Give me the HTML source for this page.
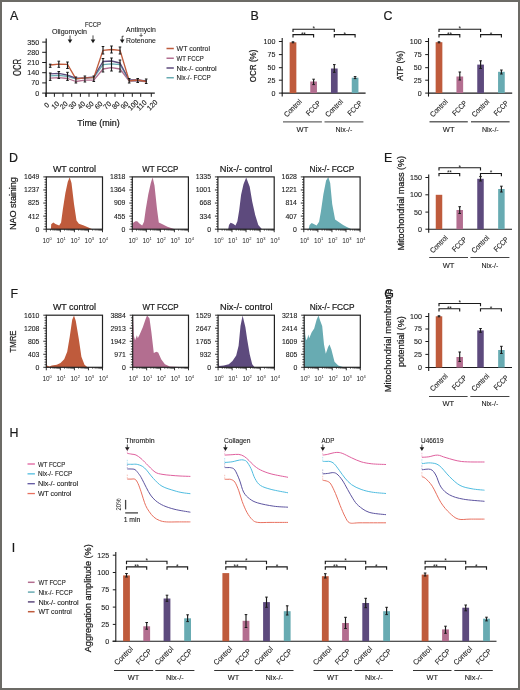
<!DOCTYPE html>
<html><head><meta charset="utf-8"><style>
html,body{margin:0;padding:0;background:#fff;}
svg{display:block;font-family:"Liberation Sans",sans-serif;will-change:transform;}
</style></head><body>
<svg width="520" height="690" viewBox="0 0 520 690">
<rect x="0" y="0" width="520" height="690" fill="#fff"/>
<text x="10" y="20" font-size="12.4" text-anchor="start" fill="#1a1a1a" stroke="#1a1a1a" stroke-width="0.2">A</text>
<text x="250.5" y="20" font-size="12.4" text-anchor="start" fill="#1a1a1a" stroke="#1a1a1a" stroke-width="0.2">B</text>
<text x="383.5" y="20" font-size="12.4" text-anchor="start" fill="#1a1a1a" stroke="#1a1a1a" stroke-width="0.2">C</text>
<text x="9" y="161.5" font-size="12.4" text-anchor="start" fill="#1a1a1a" stroke="#1a1a1a" stroke-width="0.2">D</text>
<text x="384" y="161.5" font-size="12.4" text-anchor="start" fill="#1a1a1a" stroke="#1a1a1a" stroke-width="0.2">E</text>
<text x="10.5" y="298.3" font-size="12.4" text-anchor="start" fill="#1a1a1a" stroke="#1a1a1a" stroke-width="0.2">F</text>
<text x="9.5" y="436.5" font-size="12.4" text-anchor="start" fill="#1a1a1a" stroke="#1a1a1a" stroke-width="0.2">H</text>
<text x="11.8" y="551.5" font-size="12.4" text-anchor="start" fill="#1a1a1a" stroke="#1a1a1a" stroke-width="0.2">I</text>
<line x1="46.2" y1="38.5" x2="46.2" y2="97" stroke="#1a1a1a" stroke-width="1.2"/>
<line x1="45.6" y1="93.1" x2="154.8" y2="93.1" stroke="#1a1a1a" stroke-width="1.2"/>
<line x1="42.2" y1="93.1" x2="46.2" y2="93.1" stroke="#1a1a1a" stroke-width="1"/>
<text x="39.2" y="95.6" font-size="7.1" text-anchor="end" fill="#1a1a1a" stroke="#1a1a1a" stroke-width="0.1">0</text>
<line x1="42.2" y1="82.9" x2="46.2" y2="82.9" stroke="#1a1a1a" stroke-width="1"/>
<text x="39.2" y="85.4" font-size="7.1" text-anchor="end" fill="#1a1a1a" stroke="#1a1a1a" stroke-width="0.1">70</text>
<line x1="42.2" y1="72.7" x2="46.2" y2="72.7" stroke="#1a1a1a" stroke-width="1"/>
<text x="39.2" y="75.2" font-size="7.1" text-anchor="end" fill="#1a1a1a" stroke="#1a1a1a" stroke-width="0.1">140</text>
<line x1="42.2" y1="62.5" x2="46.2" y2="62.5" stroke="#1a1a1a" stroke-width="1"/>
<text x="39.2" y="65" font-size="7.1" text-anchor="end" fill="#1a1a1a" stroke="#1a1a1a" stroke-width="0.1">210</text>
<line x1="42.2" y1="52.3" x2="46.2" y2="52.3" stroke="#1a1a1a" stroke-width="1"/>
<text x="39.2" y="54.8" font-size="7.1" text-anchor="end" fill="#1a1a1a" stroke="#1a1a1a" stroke-width="0.1">280</text>
<line x1="42.2" y1="42.1" x2="46.2" y2="42.1" stroke="#1a1a1a" stroke-width="1"/>
<text x="39.2" y="44.6" font-size="7.1" text-anchor="end" fill="#1a1a1a" stroke="#1a1a1a" stroke-width="0.1">350</text>
<line x1="45.8" y1="93.1" x2="45.8" y2="96.8" stroke="#1a1a1a" stroke-width="1"/>
<text transform="translate(48.4 106.9) rotate(-45)" font-size="7.1" text-anchor="middle" fill="#1a1a1a" stroke="#1a1a1a" stroke-width="0.1">0</text>
<line x1="54.4" y1="93.1" x2="54.4" y2="96.8" stroke="#1a1a1a" stroke-width="1"/>
<text transform="translate(57 106.9) rotate(-45)" font-size="7.1" text-anchor="middle" fill="#1a1a1a" stroke="#1a1a1a" stroke-width="0.1">10</text>
<line x1="63" y1="93.1" x2="63" y2="96.8" stroke="#1a1a1a" stroke-width="1"/>
<text transform="translate(65.6 106.9) rotate(-45)" font-size="7.1" text-anchor="middle" fill="#1a1a1a" stroke="#1a1a1a" stroke-width="0.1">20</text>
<line x1="71.7" y1="93.1" x2="71.7" y2="96.8" stroke="#1a1a1a" stroke-width="1"/>
<text transform="translate(74.3 106.9) rotate(-45)" font-size="7.1" text-anchor="middle" fill="#1a1a1a" stroke="#1a1a1a" stroke-width="0.1">30</text>
<line x1="80.4" y1="93.1" x2="80.4" y2="96.8" stroke="#1a1a1a" stroke-width="1"/>
<text transform="translate(83 106.9) rotate(-45)" font-size="7.1" text-anchor="middle" fill="#1a1a1a" stroke="#1a1a1a" stroke-width="0.1">40</text>
<line x1="89" y1="93.1" x2="89" y2="96.8" stroke="#1a1a1a" stroke-width="1"/>
<text transform="translate(91.6 106.9) rotate(-45)" font-size="7.1" text-anchor="middle" fill="#1a1a1a" stroke="#1a1a1a" stroke-width="0.1">50</text>
<line x1="97.7" y1="93.1" x2="97.7" y2="96.8" stroke="#1a1a1a" stroke-width="1"/>
<text transform="translate(100.3 106.9) rotate(-45)" font-size="7.1" text-anchor="middle" fill="#1a1a1a" stroke="#1a1a1a" stroke-width="0.1">60</text>
<line x1="106.3" y1="93.1" x2="106.3" y2="96.8" stroke="#1a1a1a" stroke-width="1"/>
<text transform="translate(108.9 106.9) rotate(-45)" font-size="7.1" text-anchor="middle" fill="#1a1a1a" stroke="#1a1a1a" stroke-width="0.1">70</text>
<line x1="115" y1="93.1" x2="115" y2="96.8" stroke="#1a1a1a" stroke-width="1"/>
<text transform="translate(117.6 106.9) rotate(-45)" font-size="7.1" text-anchor="middle" fill="#1a1a1a" stroke="#1a1a1a" stroke-width="0.1">80</text>
<line x1="123.6" y1="93.1" x2="123.6" y2="96.8" stroke="#1a1a1a" stroke-width="1"/>
<text transform="translate(126.2 106.9) rotate(-45)" font-size="7.1" text-anchor="middle" fill="#1a1a1a" stroke="#1a1a1a" stroke-width="0.1">90</text>
<line x1="132.3" y1="93.1" x2="132.3" y2="96.8" stroke="#1a1a1a" stroke-width="1"/>
<text transform="translate(134.9 106.9) rotate(-45)" font-size="7.1" text-anchor="middle" fill="#1a1a1a" stroke="#1a1a1a" stroke-width="0.1">100</text>
<line x1="140.7" y1="93.1" x2="140.7" y2="96.8" stroke="#1a1a1a" stroke-width="1"/>
<text transform="translate(143.3 106.9) rotate(-45)" font-size="7.1" text-anchor="middle" fill="#1a1a1a" stroke="#1a1a1a" stroke-width="0.1">110</text>
<line x1="151.3" y1="93.1" x2="151.3" y2="96.8" stroke="#1a1a1a" stroke-width="1"/>
<text transform="translate(153.9 106.9) rotate(-45)" font-size="7.1" text-anchor="middle" fill="#1a1a1a" stroke="#1a1a1a" stroke-width="0.1">120</text>
<text x="98.5" y="125.8" font-size="9.3" text-anchor="middle" fill="#1a1a1a" textLength="42.5" lengthAdjust="spacingAndGlyphs" stroke="#1a1a1a" stroke-width="0.22">Time (min)</text>
<text transform="translate(20.9 67.4) rotate(-90)" font-size="10" text-anchor="middle" fill="#1a1a1a" textLength="17.1" lengthAdjust="spacingAndGlyphs" stroke="#1a1a1a" stroke-width="0.22">OCR</text>
<text x="52" y="34" font-size="7.5" text-anchor="start" fill="#1a1a1a" textLength="35" lengthAdjust="spacingAndGlyphs" stroke="#1a1a1a" stroke-width="0.1">Oligomycin</text>
<line x1="70" y1="35.4" x2="70" y2="39.9" stroke="#1a1a1a" stroke-width="0.8"/>
<path d="M67.7 39.4L72.3 39.4L70 43.2Z" fill="#1a1a1a"/>
<text x="93" y="27.2" font-size="7.5" text-anchor="middle" fill="#1a1a1a" textLength="16" lengthAdjust="spacingAndGlyphs" stroke="#1a1a1a" stroke-width="0.1">FCCP</text>
<line x1="93" y1="35.4" x2="93" y2="39.9" stroke="#1a1a1a" stroke-width="0.8"/>
<path d="M90.7 39.4L95.3 39.4L93 43.2Z" fill="#1a1a1a"/>
<text x="141" y="31.8" font-size="7.4" text-anchor="middle" fill="#1a1a1a" textLength="29.8" lengthAdjust="spacingAndGlyphs" stroke="#1a1a1a" stroke-width="0.1">Antimycin</text>
<text x="141" y="37.8" font-size="7" text-anchor="middle" fill="#1a1a1a" stroke="#1a1a1a" stroke-width="0.1">+</text>
<text x="141" y="43.4" font-size="7.4" text-anchor="middle" fill="#1a1a1a" textLength="29.8" lengthAdjust="spacingAndGlyphs" stroke="#1a1a1a" stroke-width="0.1">Rotenone</text>
<line x1="122.2" y1="36" x2="122.2" y2="39.9" stroke="#1a1a1a" stroke-width="0.8"/>
<path d="M119.9 39.4L124.5 39.4L122.2 43.2Z" fill="#1a1a1a"/>
<line x1="122.2" y1="36.2" x2="123.8" y2="36.2" stroke="#1a1a1a" stroke-width="0.7"/>
<polyline points="50.2,78.1 58.8,77.7 67.5,78.5 75.9,81.5 84.9,80.2 93.8,80.2 103,69 111.5,67.7 120,69 129.2,81 137.7,81 146.2,81.6" fill="none" stroke="#b36e90" stroke-width="1.3" stroke-linejoin="round" stroke-linecap="round"/>
<polyline points="50.2,75.8 58.8,75.4 67.5,76.4 75.9,78.8 84.9,78.2 93.8,77.6 103,64.6 111.5,63.8 120,64.6 129.2,80.5 137.7,80.5 146.2,81" fill="none" stroke="#68abb2" stroke-width="1.3" stroke-linejoin="round" stroke-linecap="round"/>
<polyline points="50.2,73.8 58.8,73.3 67.5,75.2 75.9,78.1 84.9,77.8 93.8,76.8 103,61.5 111.5,61 120,63 129.2,80 137.7,80 146.2,81" fill="none" stroke="#5d4a7d" stroke-width="1.3" stroke-linejoin="round" stroke-linecap="round"/>
<polyline points="50.2,65 58.8,64.1 67.5,64.4 75.9,78.8 84.9,77.8 93.8,77.7 103,50.3 111.5,49.5 120,50.3 129.2,80.8 137.7,80 146.2,81.5" fill="none" stroke="#bf5b3c" stroke-width="1.3" stroke-linejoin="round" stroke-linecap="round"/>
<line x1="50.2" y1="64.2" x2="50.2" y2="67.3" stroke="#1a1a1a" stroke-width="1.15"/>
<line x1="48.9" y1="64.2" x2="51.5" y2="64.2" stroke="#1a1a1a" stroke-width="1"/>
<line x1="48.9" y1="67.3" x2="51.5" y2="67.3" stroke="#1a1a1a" stroke-width="1"/>
<line x1="58.8" y1="61.2" x2="58.8" y2="67.3" stroke="#1a1a1a" stroke-width="1.15"/>
<line x1="57.5" y1="61.2" x2="60.1" y2="61.2" stroke="#1a1a1a" stroke-width="1"/>
<line x1="57.5" y1="67.3" x2="60.1" y2="67.3" stroke="#1a1a1a" stroke-width="1"/>
<line x1="67.5" y1="62" x2="67.5" y2="68.5" stroke="#1a1a1a" stroke-width="1.15"/>
<line x1="66.2" y1="62" x2="68.8" y2="62" stroke="#1a1a1a" stroke-width="1"/>
<line x1="66.2" y1="68.5" x2="68.8" y2="68.5" stroke="#1a1a1a" stroke-width="1"/>
<line x1="103" y1="46.5" x2="103" y2="54" stroke="#1a1a1a" stroke-width="1.15"/>
<line x1="101.7" y1="46.5" x2="104.3" y2="46.5" stroke="#1a1a1a" stroke-width="1"/>
<line x1="101.7" y1="54" x2="104.3" y2="54" stroke="#1a1a1a" stroke-width="1"/>
<line x1="111.5" y1="46" x2="111.5" y2="53" stroke="#1a1a1a" stroke-width="1.15"/>
<line x1="110.2" y1="46" x2="112.8" y2="46" stroke="#1a1a1a" stroke-width="1"/>
<line x1="110.2" y1="53" x2="112.8" y2="53" stroke="#1a1a1a" stroke-width="1"/>
<line x1="120" y1="47" x2="120" y2="54" stroke="#1a1a1a" stroke-width="1.15"/>
<line x1="118.7" y1="47" x2="121.3" y2="47" stroke="#1a1a1a" stroke-width="1"/>
<line x1="118.7" y1="54" x2="121.3" y2="54" stroke="#1a1a1a" stroke-width="1"/>
<line x1="50.2" y1="73" x2="50.2" y2="80.4" stroke="#1a1a1a" stroke-width="1.15"/>
<line x1="48.9" y1="73" x2="51.5" y2="73" stroke="#1a1a1a" stroke-width="1"/>
<line x1="48.9" y1="80.4" x2="51.5" y2="80.4" stroke="#1a1a1a" stroke-width="1"/>
<line x1="58.8" y1="71.5" x2="58.8" y2="78.5" stroke="#1a1a1a" stroke-width="1.15"/>
<line x1="57.5" y1="71.5" x2="60.1" y2="71.5" stroke="#1a1a1a" stroke-width="1"/>
<line x1="57.5" y1="78.5" x2="60.1" y2="78.5" stroke="#1a1a1a" stroke-width="1"/>
<line x1="67.5" y1="72.3" x2="67.5" y2="80.4" stroke="#1a1a1a" stroke-width="1.15"/>
<line x1="66.2" y1="72.3" x2="68.8" y2="72.3" stroke="#1a1a1a" stroke-width="1"/>
<line x1="66.2" y1="80.4" x2="68.8" y2="80.4" stroke="#1a1a1a" stroke-width="1"/>
<line x1="75.9" y1="77" x2="75.9" y2="83" stroke="#1a1a1a" stroke-width="1.15"/>
<line x1="74.6" y1="77" x2="77.2" y2="77" stroke="#1a1a1a" stroke-width="1"/>
<line x1="74.6" y1="83" x2="77.2" y2="83" stroke="#1a1a1a" stroke-width="1"/>
<line x1="84.9" y1="76" x2="84.9" y2="82" stroke="#1a1a1a" stroke-width="1.15"/>
<line x1="83.6" y1="76" x2="86.2" y2="76" stroke="#1a1a1a" stroke-width="1"/>
<line x1="83.6" y1="82" x2="86.2" y2="82" stroke="#1a1a1a" stroke-width="1"/>
<line x1="93.8" y1="76" x2="93.8" y2="81.5" stroke="#1a1a1a" stroke-width="1.15"/>
<line x1="92.5" y1="76" x2="95.1" y2="76" stroke="#1a1a1a" stroke-width="1"/>
<line x1="92.5" y1="81.5" x2="95.1" y2="81.5" stroke="#1a1a1a" stroke-width="1"/>
<line x1="103" y1="58.5" x2="103" y2="72" stroke="#1a1a1a" stroke-width="1.15"/>
<line x1="101.7" y1="58.5" x2="104.3" y2="58.5" stroke="#1a1a1a" stroke-width="1"/>
<line x1="101.7" y1="72" x2="104.3" y2="72" stroke="#1a1a1a" stroke-width="1"/>
<line x1="111.5" y1="58" x2="111.5" y2="71" stroke="#1a1a1a" stroke-width="1.15"/>
<line x1="110.2" y1="58" x2="112.8" y2="58" stroke="#1a1a1a" stroke-width="1"/>
<line x1="110.2" y1="71" x2="112.8" y2="71" stroke="#1a1a1a" stroke-width="1"/>
<line x1="120" y1="60" x2="120" y2="72" stroke="#1a1a1a" stroke-width="1.15"/>
<line x1="118.7" y1="60" x2="121.3" y2="60" stroke="#1a1a1a" stroke-width="1"/>
<line x1="118.7" y1="72" x2="121.3" y2="72" stroke="#1a1a1a" stroke-width="1"/>
<line x1="129.2" y1="78.5" x2="129.2" y2="83" stroke="#1a1a1a" stroke-width="1.15"/>
<line x1="127.9" y1="78.5" x2="130.5" y2="78.5" stroke="#1a1a1a" stroke-width="1"/>
<line x1="127.9" y1="83" x2="130.5" y2="83" stroke="#1a1a1a" stroke-width="1"/>
<line x1="137.7" y1="78.5" x2="137.7" y2="82.5" stroke="#1a1a1a" stroke-width="1.15"/>
<line x1="136.4" y1="78.5" x2="139" y2="78.5" stroke="#1a1a1a" stroke-width="1"/>
<line x1="136.4" y1="82.5" x2="139" y2="82.5" stroke="#1a1a1a" stroke-width="1"/>
<line x1="146.2" y1="79" x2="146.2" y2="83.5" stroke="#1a1a1a" stroke-width="1.15"/>
<line x1="144.9" y1="79" x2="147.5" y2="79" stroke="#1a1a1a" stroke-width="1"/>
<line x1="144.9" y1="83.5" x2="147.5" y2="83.5" stroke="#1a1a1a" stroke-width="1"/>
<line x1="166.5" y1="48.5" x2="173.8" y2="48.5" stroke="#bf5b3c" stroke-width="1.5"/>
<text x="176.6" y="51.1" font-size="7.3" text-anchor="start" fill="#1a1a1a" textLength="33.4" lengthAdjust="spacingAndGlyphs" stroke="#1a1a1a" stroke-width="0.1">WT control</text>
<line x1="166.5" y1="58.25" x2="173.8" y2="58.25" stroke="#b36e90" stroke-width="1.5"/>
<text x="176.6" y="60.85" font-size="7.3" text-anchor="start" fill="#1a1a1a" textLength="27.2" lengthAdjust="spacingAndGlyphs" stroke="#1a1a1a" stroke-width="0.1">WT FCCP</text>
<line x1="166.5" y1="68" x2="173.8" y2="68" stroke="#5d4a7d" stroke-width="1.5"/>
<text x="176.6" y="70.6" font-size="7.3" text-anchor="start" fill="#1a1a1a" textLength="40" lengthAdjust="spacing" stroke="#1a1a1a" stroke-width="0.1">Nix-/- control</text>
<line x1="166.5" y1="77.75" x2="173.8" y2="77.75" stroke="#68abb2" stroke-width="1.5"/>
<text x="176.6" y="80.35" font-size="7.3" text-anchor="start" fill="#1a1a1a" textLength="34.2" lengthAdjust="spacingAndGlyphs" stroke="#1a1a1a" stroke-width="0.1">Nix-/- FCCP</text>
<line x1="282.2" y1="38" x2="282.2" y2="96.6" stroke="#1a1a1a" stroke-width="1.1"/>
<line x1="281.7" y1="93.1" x2="365.6" y2="93.1" stroke="#1a1a1a" stroke-width="1.1"/>
<line x1="278.9" y1="93.1" x2="282.2" y2="93.1" stroke="#1a1a1a" stroke-width="1"/>
<text x="275.4" y="95.55" font-size="7.1" text-anchor="end" fill="#1a1a1a" stroke="#1a1a1a" stroke-width="0.1">0</text>
<line x1="278.9" y1="80.2" x2="282.2" y2="80.2" stroke="#1a1a1a" stroke-width="1"/>
<text x="275.4" y="82.65" font-size="7.1" text-anchor="end" fill="#1a1a1a" stroke="#1a1a1a" stroke-width="0.1">25</text>
<line x1="278.9" y1="67.7" x2="282.2" y2="67.7" stroke="#1a1a1a" stroke-width="1"/>
<text x="275.4" y="70.15" font-size="7.1" text-anchor="end" fill="#1a1a1a" stroke="#1a1a1a" stroke-width="0.1">50</text>
<line x1="278.9" y1="54.6" x2="282.2" y2="54.6" stroke="#1a1a1a" stroke-width="1"/>
<text x="275.4" y="57.05" font-size="7.1" text-anchor="end" fill="#1a1a1a" stroke="#1a1a1a" stroke-width="0.1">75</text>
<line x1="278.9" y1="41.5" x2="282.2" y2="41.5" stroke="#1a1a1a" stroke-width="1"/>
<text x="275.4" y="43.95" font-size="7.1" text-anchor="end" fill="#1a1a1a" stroke="#1a1a1a" stroke-width="0.1">100</text>
<rect x="289.65" y="42.3" width="6.7" height="50.8" fill="#bf5b3c"/>
<line x1="293" y1="41.8" x2="293" y2="42.8" stroke="#1a1a1a" stroke-width="1.15"/>
<line x1="291.7" y1="41.8" x2="294.3" y2="41.8" stroke="#1a1a1a" stroke-width="1"/>
<line x1="291.7" y1="42.8" x2="294.3" y2="42.8" stroke="#1a1a1a" stroke-width="1"/>
<rect x="310.25" y="81.5" width="6.7" height="11.6" fill="#b36e90"/>
<line x1="313.6" y1="79.2" x2="313.6" y2="84.6" stroke="#1a1a1a" stroke-width="1.15"/>
<line x1="312.3" y1="79.2" x2="314.9" y2="79.2" stroke="#1a1a1a" stroke-width="1"/>
<line x1="312.3" y1="84.6" x2="314.9" y2="84.6" stroke="#1a1a1a" stroke-width="1"/>
<rect x="330.95" y="68.5" width="6.7" height="24.6" fill="#5d4a7d"/>
<line x1="334.3" y1="64.6" x2="334.3" y2="72.3" stroke="#1a1a1a" stroke-width="1.15"/>
<line x1="333" y1="64.6" x2="335.6" y2="64.6" stroke="#1a1a1a" stroke-width="1"/>
<line x1="333" y1="72.3" x2="335.6" y2="72.3" stroke="#1a1a1a" stroke-width="1"/>
<rect x="351.75" y="77.7" width="6.7" height="15.4" fill="#68abb2"/>
<line x1="355.1" y1="76.6" x2="355.1" y2="78.6" stroke="#1a1a1a" stroke-width="1.15"/>
<line x1="353.8" y1="76.6" x2="356.4" y2="76.6" stroke="#1a1a1a" stroke-width="1"/>
<line x1="353.8" y1="78.6" x2="356.4" y2="78.6" stroke="#1a1a1a" stroke-width="1"/>
<text transform="translate(302.2 102.3) rotate(-45)" font-size="7.5" text-anchor="end" fill="#1a1a1a" textLength="21.4" lengthAdjust="spacingAndGlyphs" stroke="#1a1a1a" stroke-width="0.1">Control</text>
<text transform="translate(321.3 103.8) rotate(-45)" font-size="7.5" text-anchor="end" fill="#1a1a1a" textLength="17.5" lengthAdjust="spacingAndGlyphs" stroke="#1a1a1a" stroke-width="0.1">FCCP</text>
<text transform="translate(343.5 102.3) rotate(-45)" font-size="7.5" text-anchor="end" fill="#1a1a1a" textLength="21.4" lengthAdjust="spacingAndGlyphs" stroke="#1a1a1a" stroke-width="0.1">Control</text>
<text transform="translate(362.8 103.8) rotate(-45)" font-size="7.5" text-anchor="end" fill="#1a1a1a" textLength="17.5" lengthAdjust="spacingAndGlyphs" stroke="#1a1a1a" stroke-width="0.1">FCCP</text>
<path d="M293 32V29.2H334.3V32" fill="none" stroke="#1a1a1a" stroke-width="1.15"/>
<text x="313.65" y="31.1" font-size="6.6" text-anchor="middle" fill="#1a1a1a" letter-spacing="-0.2">*</text>
<path d="M293 37.4V34.6H313.6V37.4" fill="none" stroke="#1a1a1a" stroke-width="1.15"/>
<text x="303.3" y="36.5" font-size="6.6" text-anchor="middle" fill="#1a1a1a" letter-spacing="-0.2">**</text>
<path d="M334.3 37.4V34.6H355.1V37.4" fill="none" stroke="#1a1a1a" stroke-width="1.15"/>
<text x="344.7" y="36.5" font-size="6.6" text-anchor="middle" fill="#1a1a1a" letter-spacing="-0.2">*</text>
<line x1="283" y1="121.9" x2="321.9" y2="121.9" stroke="#666" stroke-width="1.4"/>
<line x1="324.5" y1="121.9" x2="363.4" y2="121.9" stroke="#666" stroke-width="1.4"/>
<text x="302.45" y="131.6" font-size="7.5" text-anchor="middle" fill="#1a1a1a" stroke="#1a1a1a" stroke-width="0.1">WT</text>
<text x="343.95" y="131.6" font-size="7.5" text-anchor="middle" fill="#1a1a1a" textLength="16.8" lengthAdjust="spacingAndGlyphs" stroke="#1a1a1a" stroke-width="0.1">Nix-/-</text>
<text transform="translate(256.2 65.9) rotate(-90)" font-size="9.2" text-anchor="middle" fill="#1a1a1a" textLength="32.6" lengthAdjust="spacingAndGlyphs" stroke="#1a1a1a" stroke-width="0.22">OCR (%)</text>
<line x1="428.5" y1="38" x2="428.5" y2="96.6" stroke="#1a1a1a" stroke-width="1.1"/>
<line x1="428" y1="93.1" x2="512.2" y2="93.1" stroke="#1a1a1a" stroke-width="1.1"/>
<line x1="425.2" y1="93.1" x2="428.5" y2="93.1" stroke="#1a1a1a" stroke-width="1"/>
<text x="421.7" y="95.55" font-size="7.1" text-anchor="end" fill="#1a1a1a" stroke="#1a1a1a" stroke-width="0.1">0</text>
<line x1="425.2" y1="80.2" x2="428.5" y2="80.2" stroke="#1a1a1a" stroke-width="1"/>
<text x="421.7" y="82.65" font-size="7.1" text-anchor="end" fill="#1a1a1a" stroke="#1a1a1a" stroke-width="0.1">25</text>
<line x1="425.2" y1="67.7" x2="428.5" y2="67.7" stroke="#1a1a1a" stroke-width="1"/>
<text x="421.7" y="70.15" font-size="7.1" text-anchor="end" fill="#1a1a1a" stroke="#1a1a1a" stroke-width="0.1">50</text>
<line x1="425.2" y1="54.6" x2="428.5" y2="54.6" stroke="#1a1a1a" stroke-width="1"/>
<text x="421.7" y="57.05" font-size="7.1" text-anchor="end" fill="#1a1a1a" stroke="#1a1a1a" stroke-width="0.1">75</text>
<line x1="425.2" y1="41.5" x2="428.5" y2="41.5" stroke="#1a1a1a" stroke-width="1"/>
<text x="421.7" y="43.95" font-size="7.1" text-anchor="end" fill="#1a1a1a" stroke="#1a1a1a" stroke-width="0.1">100</text>
<rect x="435.65" y="42.2" width="6.7" height="50.9" fill="#bf5b3c"/>
<line x1="439" y1="41.8" x2="439" y2="42.8" stroke="#1a1a1a" stroke-width="1.15"/>
<line x1="437.7" y1="41.8" x2="440.3" y2="41.8" stroke="#1a1a1a" stroke-width="1"/>
<line x1="437.7" y1="42.8" x2="440.3" y2="42.8" stroke="#1a1a1a" stroke-width="1"/>
<rect x="456.45" y="76.5" width="6.7" height="16.6" fill="#b36e90"/>
<line x1="459.8" y1="72" x2="459.8" y2="80" stroke="#1a1a1a" stroke-width="1.15"/>
<line x1="458.5" y1="72" x2="461.1" y2="72" stroke="#1a1a1a" stroke-width="1"/>
<line x1="458.5" y1="80" x2="461.1" y2="80" stroke="#1a1a1a" stroke-width="1"/>
<rect x="477.25" y="64.6" width="6.7" height="28.5" fill="#5d4a7d"/>
<line x1="480.6" y1="60.8" x2="480.6" y2="68.5" stroke="#1a1a1a" stroke-width="1.15"/>
<line x1="479.3" y1="60.8" x2="481.9" y2="60.8" stroke="#1a1a1a" stroke-width="1"/>
<line x1="479.3" y1="68.5" x2="481.9" y2="68.5" stroke="#1a1a1a" stroke-width="1"/>
<rect x="498.05" y="71.8" width="6.7" height="21.3" fill="#68abb2"/>
<line x1="501.4" y1="70" x2="501.4" y2="74" stroke="#1a1a1a" stroke-width="1.15"/>
<line x1="500.1" y1="70" x2="502.7" y2="70" stroke="#1a1a1a" stroke-width="1"/>
<line x1="500.1" y1="74" x2="502.7" y2="74" stroke="#1a1a1a" stroke-width="1"/>
<text transform="translate(448.2 102.3) rotate(-45)" font-size="7.5" text-anchor="end" fill="#1a1a1a" textLength="21.4" lengthAdjust="spacingAndGlyphs" stroke="#1a1a1a" stroke-width="0.1">Control</text>
<text transform="translate(467.5 103.8) rotate(-45)" font-size="7.5" text-anchor="end" fill="#1a1a1a" textLength="17.5" lengthAdjust="spacingAndGlyphs" stroke="#1a1a1a" stroke-width="0.1">FCCP</text>
<text transform="translate(489.8 102.3) rotate(-45)" font-size="7.5" text-anchor="end" fill="#1a1a1a" textLength="21.4" lengthAdjust="spacingAndGlyphs" stroke="#1a1a1a" stroke-width="0.1">Control</text>
<text transform="translate(509.1 103.8) rotate(-45)" font-size="7.5" text-anchor="end" fill="#1a1a1a" textLength="17.5" lengthAdjust="spacingAndGlyphs" stroke="#1a1a1a" stroke-width="0.1">FCCP</text>
<path d="M439 32V29.2H480.6V32" fill="none" stroke="#1a1a1a" stroke-width="1.15"/>
<text x="459.8" y="31.1" font-size="6.6" text-anchor="middle" fill="#1a1a1a" letter-spacing="-0.2">*</text>
<path d="M439 37.4V34.6H459.8V37.4" fill="none" stroke="#1a1a1a" stroke-width="1.15"/>
<text x="449.4" y="36.5" font-size="6.6" text-anchor="middle" fill="#1a1a1a" letter-spacing="-0.2">**</text>
<path d="M480.6 37.4V34.6H501.4V37.4" fill="none" stroke="#1a1a1a" stroke-width="1.15"/>
<text x="491" y="36.5" font-size="6.6" text-anchor="middle" fill="#1a1a1a" letter-spacing="-0.2">*</text>
<line x1="429.5" y1="121.8" x2="467.8" y2="121.8" stroke="#666" stroke-width="1.4"/>
<line x1="471" y1="121.8" x2="509.6" y2="121.8" stroke="#666" stroke-width="1.4"/>
<text x="448.65" y="131.6" font-size="7.5" text-anchor="middle" fill="#1a1a1a" stroke="#1a1a1a" stroke-width="0.1">WT</text>
<text x="490.3" y="131.6" font-size="7.5" text-anchor="middle" fill="#1a1a1a" textLength="16.8" lengthAdjust="spacingAndGlyphs" stroke="#1a1a1a" stroke-width="0.1">Nix-/-</text>
<text transform="translate(402.6 65.8) rotate(-90)" font-size="9.2" text-anchor="middle" fill="#1a1a1a" textLength="30" lengthAdjust="spacingAndGlyphs" stroke="#1a1a1a" stroke-width="0.22">ATP (%)</text>
<line x1="428.7" y1="174.6" x2="428.7" y2="232.7" stroke="#1a1a1a" stroke-width="1.1"/>
<line x1="428.2" y1="229.2" x2="512" y2="229.2" stroke="#1a1a1a" stroke-width="1.1"/>
<line x1="425.4" y1="229.2" x2="428.7" y2="229.2" stroke="#1a1a1a" stroke-width="1"/>
<text x="421.9" y="231.65" font-size="7.1" text-anchor="end" fill="#1a1a1a" stroke="#1a1a1a" stroke-width="0.1">0</text>
<line x1="425.4" y1="212.1" x2="428.7" y2="212.1" stroke="#1a1a1a" stroke-width="1"/>
<text x="421.9" y="214.55" font-size="7.1" text-anchor="end" fill="#1a1a1a" stroke="#1a1a1a" stroke-width="0.1">50</text>
<line x1="425.4" y1="194.8" x2="428.7" y2="194.8" stroke="#1a1a1a" stroke-width="1"/>
<text x="421.9" y="197.25" font-size="7.1" text-anchor="end" fill="#1a1a1a" stroke="#1a1a1a" stroke-width="0.1">100</text>
<line x1="425.4" y1="177.5" x2="428.7" y2="177.5" stroke="#1a1a1a" stroke-width="1"/>
<text x="421.9" y="179.95" font-size="7.1" text-anchor="end" fill="#1a1a1a" stroke="#1a1a1a" stroke-width="0.1">150</text>
<rect x="435.75" y="194.8" width="6.5" height="34.4" fill="#bf5b3c"/>
<rect x="456.45" y="210" width="6.5" height="19.2" fill="#b36e90"/>
<line x1="459.7" y1="206.7" x2="459.7" y2="213.5" stroke="#1a1a1a" stroke-width="1.15"/>
<line x1="458.4" y1="206.7" x2="461" y2="206.7" stroke="#1a1a1a" stroke-width="1"/>
<line x1="458.4" y1="213.5" x2="461" y2="213.5" stroke="#1a1a1a" stroke-width="1"/>
<rect x="477.25" y="178.8" width="6.5" height="50.4" fill="#5d4a7d"/>
<line x1="480.5" y1="176.6" x2="480.5" y2="181" stroke="#1a1a1a" stroke-width="1.15"/>
<line x1="479.2" y1="176.6" x2="481.8" y2="176.6" stroke="#1a1a1a" stroke-width="1"/>
<line x1="479.2" y1="181" x2="481.8" y2="181" stroke="#1a1a1a" stroke-width="1"/>
<rect x="498.15" y="189" width="6.5" height="40.2" fill="#68abb2"/>
<line x1="501.4" y1="186.2" x2="501.4" y2="192" stroke="#1a1a1a" stroke-width="1.15"/>
<line x1="500.1" y1="186.2" x2="502.7" y2="186.2" stroke="#1a1a1a" stroke-width="1"/>
<line x1="500.1" y1="192" x2="502.7" y2="192" stroke="#1a1a1a" stroke-width="1"/>
<text transform="translate(448.2 238.4) rotate(-45)" font-size="7.5" text-anchor="end" fill="#1a1a1a" textLength="21.4" lengthAdjust="spacingAndGlyphs" stroke="#1a1a1a" stroke-width="0.1">Control</text>
<text transform="translate(467.4 239.9) rotate(-45)" font-size="7.5" text-anchor="end" fill="#1a1a1a" textLength="17.5" lengthAdjust="spacingAndGlyphs" stroke="#1a1a1a" stroke-width="0.1">FCCP</text>
<text transform="translate(489.7 238.4) rotate(-45)" font-size="7.5" text-anchor="end" fill="#1a1a1a" textLength="21.4" lengthAdjust="spacingAndGlyphs" stroke="#1a1a1a" stroke-width="0.1">Control</text>
<text transform="translate(509.1 239.9) rotate(-45)" font-size="7.5" text-anchor="end" fill="#1a1a1a" textLength="17.5" lengthAdjust="spacingAndGlyphs" stroke="#1a1a1a" stroke-width="0.1">FCCP</text>
<path d="M439 170.5V167.7H480.5V170.5" fill="none" stroke="#1a1a1a" stroke-width="1.15"/>
<text x="459.75" y="169.6" font-size="6.6" text-anchor="middle" fill="#1a1a1a" letter-spacing="-0.2">*</text>
<path d="M439 176.3V173.5H459.7V176.3" fill="none" stroke="#1a1a1a" stroke-width="1.15"/>
<text x="449.35" y="175.4" font-size="6.6" text-anchor="middle" fill="#1a1a1a" letter-spacing="-0.2">**</text>
<path d="M480.5 176.3V173.5H501.4V176.3" fill="none" stroke="#1a1a1a" stroke-width="1.15"/>
<text x="490.95" y="175.4" font-size="6.6" text-anchor="middle" fill="#1a1a1a" letter-spacing="-0.2">*</text>
<line x1="429.2" y1="257.5" x2="468" y2="257.5" stroke="#444" stroke-width="1.1"/>
<line x1="470.4" y1="257.5" x2="509.4" y2="257.5" stroke="#444" stroke-width="1.1"/>
<text x="448.6" y="268.3" font-size="7.5" text-anchor="middle" fill="#1a1a1a" stroke="#1a1a1a" stroke-width="0.1">WT</text>
<text x="489.9" y="268.3" font-size="7.5" text-anchor="middle" fill="#1a1a1a" textLength="16.8" lengthAdjust="spacingAndGlyphs" stroke="#1a1a1a" stroke-width="0.1">Nix-/-</text>
<text transform="translate(404 203.2) rotate(-90)" font-size="9.2" text-anchor="middle" fill="#1a1a1a" textLength="94.5" lengthAdjust="spacing" stroke="#1a1a1a" stroke-width="0.22">Mitochondrial mass (%)</text>
<line x1="428.7" y1="313" x2="428.7" y2="371" stroke="#1a1a1a" stroke-width="1.1"/>
<line x1="428.2" y1="367.5" x2="512" y2="367.5" stroke="#1a1a1a" stroke-width="1.1"/>
<line x1="425.4" y1="367.5" x2="428.7" y2="367.5" stroke="#1a1a1a" stroke-width="1"/>
<text x="421.9" y="369.95" font-size="7.1" text-anchor="end" fill="#1a1a1a" stroke="#1a1a1a" stroke-width="0.1">0</text>
<line x1="425.4" y1="354.4" x2="428.7" y2="354.4" stroke="#1a1a1a" stroke-width="1"/>
<text x="421.9" y="356.85" font-size="7.1" text-anchor="end" fill="#1a1a1a" stroke="#1a1a1a" stroke-width="0.1">25</text>
<line x1="425.4" y1="341.5" x2="428.7" y2="341.5" stroke="#1a1a1a" stroke-width="1"/>
<text x="421.9" y="343.95" font-size="7.1" text-anchor="end" fill="#1a1a1a" stroke="#1a1a1a" stroke-width="0.1">50</text>
<line x1="425.4" y1="329" x2="428.7" y2="329" stroke="#1a1a1a" stroke-width="1"/>
<text x="421.9" y="331.45" font-size="7.1" text-anchor="end" fill="#1a1a1a" stroke="#1a1a1a" stroke-width="0.1">75</text>
<line x1="425.4" y1="316.5" x2="428.7" y2="316.5" stroke="#1a1a1a" stroke-width="1"/>
<text x="421.9" y="318.95" font-size="7.1" text-anchor="end" fill="#1a1a1a" stroke="#1a1a1a" stroke-width="0.1">100</text>
<rect x="435.75" y="316.3" width="6.5" height="51.2" fill="#bf5b3c"/>
<line x1="439" y1="315.8" x2="439" y2="316.8" stroke="#1a1a1a" stroke-width="1.15"/>
<line x1="437.7" y1="315.8" x2="440.3" y2="315.8" stroke="#1a1a1a" stroke-width="1"/>
<line x1="437.7" y1="316.8" x2="440.3" y2="316.8" stroke="#1a1a1a" stroke-width="1"/>
<rect x="456.45" y="357" width="6.5" height="10.5" fill="#b36e90"/>
<line x1="459.7" y1="352" x2="459.7" y2="361.5" stroke="#1a1a1a" stroke-width="1.15"/>
<line x1="458.4" y1="352" x2="461" y2="352" stroke="#1a1a1a" stroke-width="1"/>
<line x1="458.4" y1="361.5" x2="461" y2="361.5" stroke="#1a1a1a" stroke-width="1"/>
<rect x="477.25" y="330.4" width="6.5" height="37.1" fill="#5d4a7d"/>
<line x1="480.5" y1="328.5" x2="480.5" y2="332.3" stroke="#1a1a1a" stroke-width="1.15"/>
<line x1="479.2" y1="328.5" x2="481.8" y2="328.5" stroke="#1a1a1a" stroke-width="1"/>
<line x1="479.2" y1="332.3" x2="481.8" y2="332.3" stroke="#1a1a1a" stroke-width="1"/>
<rect x="498.15" y="350" width="6.5" height="17.5" fill="#68abb2"/>
<line x1="501.4" y1="346.3" x2="501.4" y2="353.5" stroke="#1a1a1a" stroke-width="1.15"/>
<line x1="500.1" y1="346.3" x2="502.7" y2="346.3" stroke="#1a1a1a" stroke-width="1"/>
<line x1="500.1" y1="353.5" x2="502.7" y2="353.5" stroke="#1a1a1a" stroke-width="1"/>
<text transform="translate(448.2 376.7) rotate(-45)" font-size="7.5" text-anchor="end" fill="#1a1a1a" textLength="21.4" lengthAdjust="spacingAndGlyphs" stroke="#1a1a1a" stroke-width="0.1">Control</text>
<text transform="translate(467.4 378.2) rotate(-45)" font-size="7.5" text-anchor="end" fill="#1a1a1a" textLength="17.5" lengthAdjust="spacingAndGlyphs" stroke="#1a1a1a" stroke-width="0.1">FCCP</text>
<text transform="translate(489.7 376.7) rotate(-45)" font-size="7.5" text-anchor="end" fill="#1a1a1a" textLength="21.4" lengthAdjust="spacingAndGlyphs" stroke="#1a1a1a" stroke-width="0.1">Control</text>
<text transform="translate(509.1 378.2) rotate(-45)" font-size="7.5" text-anchor="end" fill="#1a1a1a" textLength="17.5" lengthAdjust="spacingAndGlyphs" stroke="#1a1a1a" stroke-width="0.1">FCCP</text>
<path d="M439 306.3V303.5H480.5V306.3" fill="none" stroke="#1a1a1a" stroke-width="1.15"/>
<text x="459.75" y="305.4" font-size="6.6" text-anchor="middle" fill="#1a1a1a" letter-spacing="-0.2">*</text>
<path d="M439 311.5V308.7H459.7V311.5" fill="none" stroke="#1a1a1a" stroke-width="1.15"/>
<text x="449.35" y="310.6" font-size="6.6" text-anchor="middle" fill="#1a1a1a" letter-spacing="-0.2">**</text>
<path d="M480.5 311.5V308.7H501.4V311.5" fill="none" stroke="#1a1a1a" stroke-width="1.15"/>
<text x="490.95" y="310.6" font-size="6.6" text-anchor="middle" fill="#1a1a1a" letter-spacing="-0.2">*</text>
<line x1="429" y1="396.5" x2="467.6" y2="396.5" stroke="#444" stroke-width="1.1"/>
<line x1="470.3" y1="396.5" x2="509.4" y2="396.5" stroke="#444" stroke-width="1.1"/>
<text x="448.3" y="406" font-size="7.5" text-anchor="middle" fill="#1a1a1a" stroke="#1a1a1a" stroke-width="0.1">WT</text>
<text x="489.85" y="406" font-size="7.5" text-anchor="middle" fill="#1a1a1a" textLength="16.8" lengthAdjust="spacingAndGlyphs" stroke="#1a1a1a" stroke-width="0.1">Nix-/-</text>
<text transform="translate(391.3 340.7) rotate(-90)" font-size="9.2" text-anchor="middle" fill="#1a1a1a" textLength="103" lengthAdjust="spacing" stroke="#1a1a1a" stroke-width="0.22">Mitochondrial membrane</text>
<text transform="translate(403.5 341.6) rotate(-90)" font-size="9.2" text-anchor="middle" fill="#1a1a1a" textLength="51" lengthAdjust="spacing" stroke="#1a1a1a" stroke-width="0.22">potential (%)</text>
<text x="384.3" y="298" font-size="12.4" text-anchor="start" fill="#1a1a1a" stroke="#1a1a1a" stroke-width="0.2">G</text>
<path d="M50.9 229.2 L50.9 229.2 L51.2 224.3 L53.3 222.5 L55.5 223.9 L59.2 225.5 L61.1 222.5 L62.9 208.9 L65.4 192.9 L67.8 181.8 L69.7 177.2 L71.5 183.1 L74 204 L76.5 220.6 L78.9 223.7 L83.8 225.5 L92.5 229.2 L92.5 229.2 Z" fill="#bf5b3c"/>
<rect x="46.3" y="176.9" width="56.2" height="52.3" fill="none" stroke="#222" stroke-width="1.2"/>
<line x1="43.3" y1="229.2" x2="46.3" y2="229.2" stroke="#1a1a1a" stroke-width="0.9"/>
<text x="39.4" y="231.6" font-size="6.9" text-anchor="end" fill="#1a1a1a" stroke="#1a1a1a" stroke-width="0.1">0</text>
<line x1="43.3" y1="216.12" x2="46.3" y2="216.12" stroke="#1a1a1a" stroke-width="0.9"/>
<text x="39.4" y="218.53" font-size="6.9" text-anchor="end" fill="#1a1a1a" stroke="#1a1a1a" stroke-width="0.1">412</text>
<line x1="43.3" y1="203.05" x2="46.3" y2="203.05" stroke="#1a1a1a" stroke-width="0.9"/>
<text x="39.4" y="205.45" font-size="6.9" text-anchor="end" fill="#1a1a1a" stroke="#1a1a1a" stroke-width="0.1">825</text>
<line x1="43.3" y1="189.97" x2="46.3" y2="189.97" stroke="#1a1a1a" stroke-width="0.9"/>
<text x="39.4" y="192.38" font-size="6.9" text-anchor="end" fill="#1a1a1a" stroke="#1a1a1a" stroke-width="0.1">1237</text>
<line x1="43.3" y1="176.9" x2="46.3" y2="176.9" stroke="#1a1a1a" stroke-width="0.9"/>
<text x="39.4" y="179.3" font-size="6.9" text-anchor="end" fill="#1a1a1a" stroke="#1a1a1a" stroke-width="0.1">1649</text>
<line x1="44.5" y1="226.58" x2="46.3" y2="226.58" stroke="#1a1a1a" stroke-width="0.75"/>
<line x1="44.5" y1="223.97" x2="46.3" y2="223.97" stroke="#1a1a1a" stroke-width="0.75"/>
<line x1="44.5" y1="221.35" x2="46.3" y2="221.35" stroke="#1a1a1a" stroke-width="0.75"/>
<line x1="44.5" y1="218.74" x2="46.3" y2="218.74" stroke="#1a1a1a" stroke-width="0.75"/>
<line x1="44.5" y1="213.51" x2="46.3" y2="213.51" stroke="#1a1a1a" stroke-width="0.75"/>
<line x1="44.5" y1="210.89" x2="46.3" y2="210.89" stroke="#1a1a1a" stroke-width="0.75"/>
<line x1="44.5" y1="208.28" x2="46.3" y2="208.28" stroke="#1a1a1a" stroke-width="0.75"/>
<line x1="44.5" y1="205.66" x2="46.3" y2="205.66" stroke="#1a1a1a" stroke-width="0.75"/>
<line x1="44.5" y1="200.44" x2="46.3" y2="200.44" stroke="#1a1a1a" stroke-width="0.75"/>
<line x1="44.5" y1="197.82" x2="46.3" y2="197.82" stroke="#1a1a1a" stroke-width="0.75"/>
<line x1="44.5" y1="195.2" x2="46.3" y2="195.2" stroke="#1a1a1a" stroke-width="0.75"/>
<line x1="44.5" y1="192.59" x2="46.3" y2="192.59" stroke="#1a1a1a" stroke-width="0.75"/>
<line x1="44.5" y1="187.36" x2="46.3" y2="187.36" stroke="#1a1a1a" stroke-width="0.75"/>
<line x1="44.5" y1="184.75" x2="46.3" y2="184.75" stroke="#1a1a1a" stroke-width="0.75"/>
<line x1="44.5" y1="182.13" x2="46.3" y2="182.13" stroke="#1a1a1a" stroke-width="0.75"/>
<line x1="44.5" y1="179.51" x2="46.3" y2="179.51" stroke="#1a1a1a" stroke-width="0.75"/>
<line x1="50.53" y1="229.2" x2="50.53" y2="230.8" stroke="#1a1a1a" stroke-width="0.6"/>
<line x1="53" y1="229.2" x2="53" y2="230.8" stroke="#1a1a1a" stroke-width="0.6"/>
<line x1="54.76" y1="229.2" x2="54.76" y2="230.8" stroke="#1a1a1a" stroke-width="0.6"/>
<line x1="56.12" y1="229.2" x2="56.12" y2="230.8" stroke="#1a1a1a" stroke-width="0.6"/>
<line x1="57.23" y1="229.2" x2="57.23" y2="230.8" stroke="#1a1a1a" stroke-width="0.6"/>
<line x1="58.17" y1="229.2" x2="58.17" y2="230.8" stroke="#1a1a1a" stroke-width="0.6"/>
<line x1="58.99" y1="229.2" x2="58.99" y2="230.8" stroke="#1a1a1a" stroke-width="0.6"/>
<line x1="59.71" y1="229.2" x2="59.71" y2="230.8" stroke="#1a1a1a" stroke-width="0.6"/>
<line x1="64.58" y1="229.2" x2="64.58" y2="230.8" stroke="#1a1a1a" stroke-width="0.6"/>
<line x1="67.05" y1="229.2" x2="67.05" y2="230.8" stroke="#1a1a1a" stroke-width="0.6"/>
<line x1="68.81" y1="229.2" x2="68.81" y2="230.8" stroke="#1a1a1a" stroke-width="0.6"/>
<line x1="70.17" y1="229.2" x2="70.17" y2="230.8" stroke="#1a1a1a" stroke-width="0.6"/>
<line x1="71.28" y1="229.2" x2="71.28" y2="230.8" stroke="#1a1a1a" stroke-width="0.6"/>
<line x1="72.22" y1="229.2" x2="72.22" y2="230.8" stroke="#1a1a1a" stroke-width="0.6"/>
<line x1="73.04" y1="229.2" x2="73.04" y2="230.8" stroke="#1a1a1a" stroke-width="0.6"/>
<line x1="73.76" y1="229.2" x2="73.76" y2="230.8" stroke="#1a1a1a" stroke-width="0.6"/>
<line x1="78.63" y1="229.2" x2="78.63" y2="230.8" stroke="#1a1a1a" stroke-width="0.6"/>
<line x1="81.1" y1="229.2" x2="81.1" y2="230.8" stroke="#1a1a1a" stroke-width="0.6"/>
<line x1="82.86" y1="229.2" x2="82.86" y2="230.8" stroke="#1a1a1a" stroke-width="0.6"/>
<line x1="84.22" y1="229.2" x2="84.22" y2="230.8" stroke="#1a1a1a" stroke-width="0.6"/>
<line x1="85.33" y1="229.2" x2="85.33" y2="230.8" stroke="#1a1a1a" stroke-width="0.6"/>
<line x1="86.27" y1="229.2" x2="86.27" y2="230.8" stroke="#1a1a1a" stroke-width="0.6"/>
<line x1="87.09" y1="229.2" x2="87.09" y2="230.8" stroke="#1a1a1a" stroke-width="0.6"/>
<line x1="87.81" y1="229.2" x2="87.81" y2="230.8" stroke="#1a1a1a" stroke-width="0.6"/>
<line x1="92.68" y1="229.2" x2="92.68" y2="230.8" stroke="#1a1a1a" stroke-width="0.6"/>
<line x1="95.15" y1="229.2" x2="95.15" y2="230.8" stroke="#1a1a1a" stroke-width="0.6"/>
<line x1="96.91" y1="229.2" x2="96.91" y2="230.8" stroke="#1a1a1a" stroke-width="0.6"/>
<line x1="98.27" y1="229.2" x2="98.27" y2="230.8" stroke="#1a1a1a" stroke-width="0.6"/>
<line x1="99.38" y1="229.2" x2="99.38" y2="230.8" stroke="#1a1a1a" stroke-width="0.6"/>
<line x1="100.32" y1="229.2" x2="100.32" y2="230.8" stroke="#1a1a1a" stroke-width="0.6"/>
<line x1="101.14" y1="229.2" x2="101.14" y2="230.8" stroke="#1a1a1a" stroke-width="0.6"/>
<line x1="101.86" y1="229.2" x2="101.86" y2="230.8" stroke="#1a1a1a" stroke-width="0.6"/>
<line x1="46.3" y1="229.2" x2="46.3" y2="232.2" stroke="#1a1a1a" stroke-width="0.9"/>
<text x="47.1" y="242.6" font-size="6.4" text-anchor="middle" fill="#1a1a1a">10<tspan dy="-2.6" font-size="4">0</tspan></text>
<line x1="60.35" y1="229.2" x2="60.35" y2="232.2" stroke="#1a1a1a" stroke-width="0.9"/>
<text x="61.15" y="242.6" font-size="6.4" text-anchor="middle" fill="#1a1a1a">10<tspan dy="-2.6" font-size="4">1</tspan></text>
<line x1="74.4" y1="229.2" x2="74.4" y2="232.2" stroke="#1a1a1a" stroke-width="0.9"/>
<text x="75.2" y="242.6" font-size="6.4" text-anchor="middle" fill="#1a1a1a">10<tspan dy="-2.6" font-size="4">2</tspan></text>
<line x1="88.45" y1="229.2" x2="88.45" y2="232.2" stroke="#1a1a1a" stroke-width="0.9"/>
<text x="89.25" y="242.6" font-size="6.4" text-anchor="middle" fill="#1a1a1a">10<tspan dy="-2.6" font-size="4">3</tspan></text>
<line x1="102.5" y1="229.2" x2="102.5" y2="232.2" stroke="#1a1a1a" stroke-width="0.9"/>
<text x="103.3" y="242.6" font-size="6.4" text-anchor="middle" fill="#1a1a1a">10<tspan dy="-2.6" font-size="4">4</tspan></text>
<text x="74.4" y="171.5" font-size="9.8" text-anchor="middle" fill="#1a1a1a" textLength="43" lengthAdjust="spacingAndGlyphs" stroke="#1a1a1a" stroke-width="0.22">WT control</text>
<path d="M132.3 229.2 L132.3 229.2 L132.9 223.1 L135.4 221.2 L137.2 221.2 L139.7 223.7 L142.2 225.5 L144 221.8 L145.8 208.9 L148.3 194.2 L150.8 183.1 L152.6 177.2 L154.5 185.5 L157 208.9 L158.8 222.5 L162.5 224.3 L167.4 226.8 L174.8 229.2 L174.8 229.2 Z" fill="#b36e90"/>
<rect x="132.3" y="176.9" width="56.1" height="52.3" fill="none" stroke="#222" stroke-width="1.2"/>
<line x1="129.3" y1="229.2" x2="132.3" y2="229.2" stroke="#1a1a1a" stroke-width="0.9"/>
<text x="125.4" y="231.6" font-size="6.9" text-anchor="end" fill="#1a1a1a" stroke="#1a1a1a" stroke-width="0.1">0</text>
<line x1="129.3" y1="216.12" x2="132.3" y2="216.12" stroke="#1a1a1a" stroke-width="0.9"/>
<text x="125.4" y="218.53" font-size="6.9" text-anchor="end" fill="#1a1a1a" stroke="#1a1a1a" stroke-width="0.1">455</text>
<line x1="129.3" y1="203.05" x2="132.3" y2="203.05" stroke="#1a1a1a" stroke-width="0.9"/>
<text x="125.4" y="205.45" font-size="6.9" text-anchor="end" fill="#1a1a1a" stroke="#1a1a1a" stroke-width="0.1">909</text>
<line x1="129.3" y1="189.97" x2="132.3" y2="189.97" stroke="#1a1a1a" stroke-width="0.9"/>
<text x="125.4" y="192.38" font-size="6.9" text-anchor="end" fill="#1a1a1a" stroke="#1a1a1a" stroke-width="0.1">1364</text>
<line x1="129.3" y1="176.9" x2="132.3" y2="176.9" stroke="#1a1a1a" stroke-width="0.9"/>
<text x="125.4" y="179.3" font-size="6.9" text-anchor="end" fill="#1a1a1a" stroke="#1a1a1a" stroke-width="0.1">1818</text>
<line x1="130.5" y1="226.58" x2="132.3" y2="226.58" stroke="#1a1a1a" stroke-width="0.75"/>
<line x1="130.5" y1="223.97" x2="132.3" y2="223.97" stroke="#1a1a1a" stroke-width="0.75"/>
<line x1="130.5" y1="221.35" x2="132.3" y2="221.35" stroke="#1a1a1a" stroke-width="0.75"/>
<line x1="130.5" y1="218.74" x2="132.3" y2="218.74" stroke="#1a1a1a" stroke-width="0.75"/>
<line x1="130.5" y1="213.51" x2="132.3" y2="213.51" stroke="#1a1a1a" stroke-width="0.75"/>
<line x1="130.5" y1="210.89" x2="132.3" y2="210.89" stroke="#1a1a1a" stroke-width="0.75"/>
<line x1="130.5" y1="208.28" x2="132.3" y2="208.28" stroke="#1a1a1a" stroke-width="0.75"/>
<line x1="130.5" y1="205.66" x2="132.3" y2="205.66" stroke="#1a1a1a" stroke-width="0.75"/>
<line x1="130.5" y1="200.44" x2="132.3" y2="200.44" stroke="#1a1a1a" stroke-width="0.75"/>
<line x1="130.5" y1="197.82" x2="132.3" y2="197.82" stroke="#1a1a1a" stroke-width="0.75"/>
<line x1="130.5" y1="195.2" x2="132.3" y2="195.2" stroke="#1a1a1a" stroke-width="0.75"/>
<line x1="130.5" y1="192.59" x2="132.3" y2="192.59" stroke="#1a1a1a" stroke-width="0.75"/>
<line x1="130.5" y1="187.36" x2="132.3" y2="187.36" stroke="#1a1a1a" stroke-width="0.75"/>
<line x1="130.5" y1="184.75" x2="132.3" y2="184.75" stroke="#1a1a1a" stroke-width="0.75"/>
<line x1="130.5" y1="182.13" x2="132.3" y2="182.13" stroke="#1a1a1a" stroke-width="0.75"/>
<line x1="130.5" y1="179.51" x2="132.3" y2="179.51" stroke="#1a1a1a" stroke-width="0.75"/>
<line x1="136.52" y1="229.2" x2="136.52" y2="230.8" stroke="#1a1a1a" stroke-width="0.6"/>
<line x1="138.99" y1="229.2" x2="138.99" y2="230.8" stroke="#1a1a1a" stroke-width="0.6"/>
<line x1="140.74" y1="229.2" x2="140.74" y2="230.8" stroke="#1a1a1a" stroke-width="0.6"/>
<line x1="142.1" y1="229.2" x2="142.1" y2="230.8" stroke="#1a1a1a" stroke-width="0.6"/>
<line x1="143.21" y1="229.2" x2="143.21" y2="230.8" stroke="#1a1a1a" stroke-width="0.6"/>
<line x1="144.15" y1="229.2" x2="144.15" y2="230.8" stroke="#1a1a1a" stroke-width="0.6"/>
<line x1="144.97" y1="229.2" x2="144.97" y2="230.8" stroke="#1a1a1a" stroke-width="0.6"/>
<line x1="145.68" y1="229.2" x2="145.68" y2="230.8" stroke="#1a1a1a" stroke-width="0.6"/>
<line x1="150.55" y1="229.2" x2="150.55" y2="230.8" stroke="#1a1a1a" stroke-width="0.6"/>
<line x1="153.02" y1="229.2" x2="153.02" y2="230.8" stroke="#1a1a1a" stroke-width="0.6"/>
<line x1="154.77" y1="229.2" x2="154.77" y2="230.8" stroke="#1a1a1a" stroke-width="0.6"/>
<line x1="156.13" y1="229.2" x2="156.13" y2="230.8" stroke="#1a1a1a" stroke-width="0.6"/>
<line x1="157.24" y1="229.2" x2="157.24" y2="230.8" stroke="#1a1a1a" stroke-width="0.6"/>
<line x1="158.18" y1="229.2" x2="158.18" y2="230.8" stroke="#1a1a1a" stroke-width="0.6"/>
<line x1="158.99" y1="229.2" x2="158.99" y2="230.8" stroke="#1a1a1a" stroke-width="0.6"/>
<line x1="159.71" y1="229.2" x2="159.71" y2="230.8" stroke="#1a1a1a" stroke-width="0.6"/>
<line x1="164.57" y1="229.2" x2="164.57" y2="230.8" stroke="#1a1a1a" stroke-width="0.6"/>
<line x1="167.04" y1="229.2" x2="167.04" y2="230.8" stroke="#1a1a1a" stroke-width="0.6"/>
<line x1="168.79" y1="229.2" x2="168.79" y2="230.8" stroke="#1a1a1a" stroke-width="0.6"/>
<line x1="170.15" y1="229.2" x2="170.15" y2="230.8" stroke="#1a1a1a" stroke-width="0.6"/>
<line x1="171.26" y1="229.2" x2="171.26" y2="230.8" stroke="#1a1a1a" stroke-width="0.6"/>
<line x1="172.2" y1="229.2" x2="172.2" y2="230.8" stroke="#1a1a1a" stroke-width="0.6"/>
<line x1="173.02" y1="229.2" x2="173.02" y2="230.8" stroke="#1a1a1a" stroke-width="0.6"/>
<line x1="173.73" y1="229.2" x2="173.73" y2="230.8" stroke="#1a1a1a" stroke-width="0.6"/>
<line x1="178.6" y1="229.2" x2="178.6" y2="230.8" stroke="#1a1a1a" stroke-width="0.6"/>
<line x1="181.07" y1="229.2" x2="181.07" y2="230.8" stroke="#1a1a1a" stroke-width="0.6"/>
<line x1="182.82" y1="229.2" x2="182.82" y2="230.8" stroke="#1a1a1a" stroke-width="0.6"/>
<line x1="184.18" y1="229.2" x2="184.18" y2="230.8" stroke="#1a1a1a" stroke-width="0.6"/>
<line x1="185.29" y1="229.2" x2="185.29" y2="230.8" stroke="#1a1a1a" stroke-width="0.6"/>
<line x1="186.23" y1="229.2" x2="186.23" y2="230.8" stroke="#1a1a1a" stroke-width="0.6"/>
<line x1="187.04" y1="229.2" x2="187.04" y2="230.8" stroke="#1a1a1a" stroke-width="0.6"/>
<line x1="187.76" y1="229.2" x2="187.76" y2="230.8" stroke="#1a1a1a" stroke-width="0.6"/>
<line x1="132.3" y1="229.2" x2="132.3" y2="232.2" stroke="#1a1a1a" stroke-width="0.9"/>
<text x="133.1" y="242.6" font-size="6.4" text-anchor="middle" fill="#1a1a1a">10<tspan dy="-2.6" font-size="4">0</tspan></text>
<line x1="146.33" y1="229.2" x2="146.33" y2="232.2" stroke="#1a1a1a" stroke-width="0.9"/>
<text x="147.13" y="242.6" font-size="6.4" text-anchor="middle" fill="#1a1a1a">10<tspan dy="-2.6" font-size="4">1</tspan></text>
<line x1="160.35" y1="229.2" x2="160.35" y2="232.2" stroke="#1a1a1a" stroke-width="0.9"/>
<text x="161.15" y="242.6" font-size="6.4" text-anchor="middle" fill="#1a1a1a">10<tspan dy="-2.6" font-size="4">2</tspan></text>
<line x1="174.38" y1="229.2" x2="174.38" y2="232.2" stroke="#1a1a1a" stroke-width="0.9"/>
<text x="175.18" y="242.6" font-size="6.4" text-anchor="middle" fill="#1a1a1a">10<tspan dy="-2.6" font-size="4">3</tspan></text>
<line x1="188.4" y1="229.2" x2="188.4" y2="232.2" stroke="#1a1a1a" stroke-width="0.9"/>
<text x="189.2" y="242.6" font-size="6.4" text-anchor="middle" fill="#1a1a1a">10<tspan dy="-2.6" font-size="4">4</tspan></text>
<text x="160.35" y="171.5" font-size="9.8" text-anchor="middle" fill="#1a1a1a" textLength="36.2" lengthAdjust="spacingAndGlyphs" stroke="#1a1a1a" stroke-width="0.22">WT FCCP</text>
<path d="M228.2 229.2 L228.2 229.2 L229 224.9 L230.6 222.7 L233.1 223.7 L235.5 225.5 L237.4 221.2 L239.2 210.2 L241.1 194.8 L243.5 184.3 L246.2 177.5 L249.7 186.8 L252.2 201.5 L255.2 215.1 L258.3 224.9 L262 229.2 L262 229.2 Z" fill="#5d4a7d"/>
<rect x="217.9" y="176.9" width="56.3" height="52.3" fill="none" stroke="#222" stroke-width="1.2"/>
<line x1="214.9" y1="229.2" x2="217.9" y2="229.2" stroke="#1a1a1a" stroke-width="0.9"/>
<text x="211" y="231.6" font-size="6.9" text-anchor="end" fill="#1a1a1a" stroke="#1a1a1a" stroke-width="0.1">0</text>
<line x1="214.9" y1="216.12" x2="217.9" y2="216.12" stroke="#1a1a1a" stroke-width="0.9"/>
<text x="211" y="218.53" font-size="6.9" text-anchor="end" fill="#1a1a1a" stroke="#1a1a1a" stroke-width="0.1">334</text>
<line x1="214.9" y1="203.05" x2="217.9" y2="203.05" stroke="#1a1a1a" stroke-width="0.9"/>
<text x="211" y="205.45" font-size="6.9" text-anchor="end" fill="#1a1a1a" stroke="#1a1a1a" stroke-width="0.1">668</text>
<line x1="214.9" y1="189.97" x2="217.9" y2="189.97" stroke="#1a1a1a" stroke-width="0.9"/>
<text x="211" y="192.38" font-size="6.9" text-anchor="end" fill="#1a1a1a" stroke="#1a1a1a" stroke-width="0.1">1001</text>
<line x1="214.9" y1="176.9" x2="217.9" y2="176.9" stroke="#1a1a1a" stroke-width="0.9"/>
<text x="211" y="179.3" font-size="6.9" text-anchor="end" fill="#1a1a1a" stroke="#1a1a1a" stroke-width="0.1">1335</text>
<line x1="216.1" y1="226.58" x2="217.9" y2="226.58" stroke="#1a1a1a" stroke-width="0.75"/>
<line x1="216.1" y1="223.97" x2="217.9" y2="223.97" stroke="#1a1a1a" stroke-width="0.75"/>
<line x1="216.1" y1="221.35" x2="217.9" y2="221.35" stroke="#1a1a1a" stroke-width="0.75"/>
<line x1="216.1" y1="218.74" x2="217.9" y2="218.74" stroke="#1a1a1a" stroke-width="0.75"/>
<line x1="216.1" y1="213.51" x2="217.9" y2="213.51" stroke="#1a1a1a" stroke-width="0.75"/>
<line x1="216.1" y1="210.89" x2="217.9" y2="210.89" stroke="#1a1a1a" stroke-width="0.75"/>
<line x1="216.1" y1="208.28" x2="217.9" y2="208.28" stroke="#1a1a1a" stroke-width="0.75"/>
<line x1="216.1" y1="205.66" x2="217.9" y2="205.66" stroke="#1a1a1a" stroke-width="0.75"/>
<line x1="216.1" y1="200.44" x2="217.9" y2="200.44" stroke="#1a1a1a" stroke-width="0.75"/>
<line x1="216.1" y1="197.82" x2="217.9" y2="197.82" stroke="#1a1a1a" stroke-width="0.75"/>
<line x1="216.1" y1="195.2" x2="217.9" y2="195.2" stroke="#1a1a1a" stroke-width="0.75"/>
<line x1="216.1" y1="192.59" x2="217.9" y2="192.59" stroke="#1a1a1a" stroke-width="0.75"/>
<line x1="216.1" y1="187.36" x2="217.9" y2="187.36" stroke="#1a1a1a" stroke-width="0.75"/>
<line x1="216.1" y1="184.75" x2="217.9" y2="184.75" stroke="#1a1a1a" stroke-width="0.75"/>
<line x1="216.1" y1="182.13" x2="217.9" y2="182.13" stroke="#1a1a1a" stroke-width="0.75"/>
<line x1="216.1" y1="179.51" x2="217.9" y2="179.51" stroke="#1a1a1a" stroke-width="0.75"/>
<line x1="222.14" y1="229.2" x2="222.14" y2="230.8" stroke="#1a1a1a" stroke-width="0.6"/>
<line x1="224.62" y1="229.2" x2="224.62" y2="230.8" stroke="#1a1a1a" stroke-width="0.6"/>
<line x1="226.37" y1="229.2" x2="226.37" y2="230.8" stroke="#1a1a1a" stroke-width="0.6"/>
<line x1="227.74" y1="229.2" x2="227.74" y2="230.8" stroke="#1a1a1a" stroke-width="0.6"/>
<line x1="228.85" y1="229.2" x2="228.85" y2="230.8" stroke="#1a1a1a" stroke-width="0.6"/>
<line x1="229.79" y1="229.2" x2="229.79" y2="230.8" stroke="#1a1a1a" stroke-width="0.6"/>
<line x1="230.61" y1="229.2" x2="230.61" y2="230.8" stroke="#1a1a1a" stroke-width="0.6"/>
<line x1="231.33" y1="229.2" x2="231.33" y2="230.8" stroke="#1a1a1a" stroke-width="0.6"/>
<line x1="236.21" y1="229.2" x2="236.21" y2="230.8" stroke="#1a1a1a" stroke-width="0.6"/>
<line x1="238.69" y1="229.2" x2="238.69" y2="230.8" stroke="#1a1a1a" stroke-width="0.6"/>
<line x1="240.45" y1="229.2" x2="240.45" y2="230.8" stroke="#1a1a1a" stroke-width="0.6"/>
<line x1="241.81" y1="229.2" x2="241.81" y2="230.8" stroke="#1a1a1a" stroke-width="0.6"/>
<line x1="242.93" y1="229.2" x2="242.93" y2="230.8" stroke="#1a1a1a" stroke-width="0.6"/>
<line x1="243.87" y1="229.2" x2="243.87" y2="230.8" stroke="#1a1a1a" stroke-width="0.6"/>
<line x1="244.69" y1="229.2" x2="244.69" y2="230.8" stroke="#1a1a1a" stroke-width="0.6"/>
<line x1="245.41" y1="229.2" x2="245.41" y2="230.8" stroke="#1a1a1a" stroke-width="0.6"/>
<line x1="250.29" y1="229.2" x2="250.29" y2="230.8" stroke="#1a1a1a" stroke-width="0.6"/>
<line x1="252.77" y1="229.2" x2="252.77" y2="230.8" stroke="#1a1a1a" stroke-width="0.6"/>
<line x1="254.52" y1="229.2" x2="254.52" y2="230.8" stroke="#1a1a1a" stroke-width="0.6"/>
<line x1="255.89" y1="229.2" x2="255.89" y2="230.8" stroke="#1a1a1a" stroke-width="0.6"/>
<line x1="257" y1="229.2" x2="257" y2="230.8" stroke="#1a1a1a" stroke-width="0.6"/>
<line x1="257.94" y1="229.2" x2="257.94" y2="230.8" stroke="#1a1a1a" stroke-width="0.6"/>
<line x1="258.76" y1="229.2" x2="258.76" y2="230.8" stroke="#1a1a1a" stroke-width="0.6"/>
<line x1="259.48" y1="229.2" x2="259.48" y2="230.8" stroke="#1a1a1a" stroke-width="0.6"/>
<line x1="264.36" y1="229.2" x2="264.36" y2="230.8" stroke="#1a1a1a" stroke-width="0.6"/>
<line x1="266.84" y1="229.2" x2="266.84" y2="230.8" stroke="#1a1a1a" stroke-width="0.6"/>
<line x1="268.6" y1="229.2" x2="268.6" y2="230.8" stroke="#1a1a1a" stroke-width="0.6"/>
<line x1="269.96" y1="229.2" x2="269.96" y2="230.8" stroke="#1a1a1a" stroke-width="0.6"/>
<line x1="271.08" y1="229.2" x2="271.08" y2="230.8" stroke="#1a1a1a" stroke-width="0.6"/>
<line x1="272.02" y1="229.2" x2="272.02" y2="230.8" stroke="#1a1a1a" stroke-width="0.6"/>
<line x1="272.84" y1="229.2" x2="272.84" y2="230.8" stroke="#1a1a1a" stroke-width="0.6"/>
<line x1="273.56" y1="229.2" x2="273.56" y2="230.8" stroke="#1a1a1a" stroke-width="0.6"/>
<line x1="217.9" y1="229.2" x2="217.9" y2="232.2" stroke="#1a1a1a" stroke-width="0.9"/>
<text x="218.7" y="242.6" font-size="6.4" text-anchor="middle" fill="#1a1a1a">10<tspan dy="-2.6" font-size="4">0</tspan></text>
<line x1="231.97" y1="229.2" x2="231.97" y2="232.2" stroke="#1a1a1a" stroke-width="0.9"/>
<text x="232.78" y="242.6" font-size="6.4" text-anchor="middle" fill="#1a1a1a">10<tspan dy="-2.6" font-size="4">1</tspan></text>
<line x1="246.05" y1="229.2" x2="246.05" y2="232.2" stroke="#1a1a1a" stroke-width="0.9"/>
<text x="246.85" y="242.6" font-size="6.4" text-anchor="middle" fill="#1a1a1a">10<tspan dy="-2.6" font-size="4">2</tspan></text>
<line x1="260.12" y1="229.2" x2="260.12" y2="232.2" stroke="#1a1a1a" stroke-width="0.9"/>
<text x="260.93" y="242.6" font-size="6.4" text-anchor="middle" fill="#1a1a1a">10<tspan dy="-2.6" font-size="4">3</tspan></text>
<line x1="274.2" y1="229.2" x2="274.2" y2="232.2" stroke="#1a1a1a" stroke-width="0.9"/>
<text x="275" y="242.6" font-size="6.4" text-anchor="middle" fill="#1a1a1a">10<tspan dy="-2.6" font-size="4">4</tspan></text>
<text x="246.05" y="171.5" font-size="9.8" text-anchor="middle" fill="#1a1a1a" textLength="52.5" lengthAdjust="spacingAndGlyphs" stroke="#1a1a1a" stroke-width="0.22">Nix-/- control</text>
<path d="M308.6 229.2 L308.6 229.2 L309.6 224.9 L311.7 223.1 L314.2 224.3 L316.6 225.5 L319.1 221.8 L320.9 211.4 L323.4 194.2 L326.1 180.6 L328.3 176.9 L330.2 183.1 L332.2 204 L335.1 219.4 L339.4 222.5 L343.1 224.9 L346.8 227.1 L351.7 229.2 L351.7 229.2 Z" fill="#68abb2"/>
<rect x="303.8" y="176.9" width="56.3" height="52.3" fill="none" stroke="#222" stroke-width="1.2"/>
<line x1="300.8" y1="229.2" x2="303.8" y2="229.2" stroke="#1a1a1a" stroke-width="0.9"/>
<text x="296.9" y="231.6" font-size="6.9" text-anchor="end" fill="#1a1a1a" stroke="#1a1a1a" stroke-width="0.1">0</text>
<line x1="300.8" y1="216.12" x2="303.8" y2="216.12" stroke="#1a1a1a" stroke-width="0.9"/>
<text x="296.9" y="218.53" font-size="6.9" text-anchor="end" fill="#1a1a1a" stroke="#1a1a1a" stroke-width="0.1">407</text>
<line x1="300.8" y1="203.05" x2="303.8" y2="203.05" stroke="#1a1a1a" stroke-width="0.9"/>
<text x="296.9" y="205.45" font-size="6.9" text-anchor="end" fill="#1a1a1a" stroke="#1a1a1a" stroke-width="0.1">814</text>
<line x1="300.8" y1="189.97" x2="303.8" y2="189.97" stroke="#1a1a1a" stroke-width="0.9"/>
<text x="296.9" y="192.38" font-size="6.9" text-anchor="end" fill="#1a1a1a" stroke="#1a1a1a" stroke-width="0.1">1221</text>
<line x1="300.8" y1="176.9" x2="303.8" y2="176.9" stroke="#1a1a1a" stroke-width="0.9"/>
<text x="296.9" y="179.3" font-size="6.9" text-anchor="end" fill="#1a1a1a" stroke="#1a1a1a" stroke-width="0.1">1628</text>
<line x1="302" y1="226.58" x2="303.8" y2="226.58" stroke="#1a1a1a" stroke-width="0.75"/>
<line x1="302" y1="223.97" x2="303.8" y2="223.97" stroke="#1a1a1a" stroke-width="0.75"/>
<line x1="302" y1="221.35" x2="303.8" y2="221.35" stroke="#1a1a1a" stroke-width="0.75"/>
<line x1="302" y1="218.74" x2="303.8" y2="218.74" stroke="#1a1a1a" stroke-width="0.75"/>
<line x1="302" y1="213.51" x2="303.8" y2="213.51" stroke="#1a1a1a" stroke-width="0.75"/>
<line x1="302" y1="210.89" x2="303.8" y2="210.89" stroke="#1a1a1a" stroke-width="0.75"/>
<line x1="302" y1="208.28" x2="303.8" y2="208.28" stroke="#1a1a1a" stroke-width="0.75"/>
<line x1="302" y1="205.66" x2="303.8" y2="205.66" stroke="#1a1a1a" stroke-width="0.75"/>
<line x1="302" y1="200.44" x2="303.8" y2="200.44" stroke="#1a1a1a" stroke-width="0.75"/>
<line x1="302" y1="197.82" x2="303.8" y2="197.82" stroke="#1a1a1a" stroke-width="0.75"/>
<line x1="302" y1="195.2" x2="303.8" y2="195.2" stroke="#1a1a1a" stroke-width="0.75"/>
<line x1="302" y1="192.59" x2="303.8" y2="192.59" stroke="#1a1a1a" stroke-width="0.75"/>
<line x1="302" y1="187.36" x2="303.8" y2="187.36" stroke="#1a1a1a" stroke-width="0.75"/>
<line x1="302" y1="184.75" x2="303.8" y2="184.75" stroke="#1a1a1a" stroke-width="0.75"/>
<line x1="302" y1="182.13" x2="303.8" y2="182.13" stroke="#1a1a1a" stroke-width="0.75"/>
<line x1="302" y1="179.51" x2="303.8" y2="179.51" stroke="#1a1a1a" stroke-width="0.75"/>
<line x1="308.04" y1="229.2" x2="308.04" y2="230.8" stroke="#1a1a1a" stroke-width="0.6"/>
<line x1="310.52" y1="229.2" x2="310.52" y2="230.8" stroke="#1a1a1a" stroke-width="0.6"/>
<line x1="312.27" y1="229.2" x2="312.27" y2="230.8" stroke="#1a1a1a" stroke-width="0.6"/>
<line x1="313.64" y1="229.2" x2="313.64" y2="230.8" stroke="#1a1a1a" stroke-width="0.6"/>
<line x1="314.75" y1="229.2" x2="314.75" y2="230.8" stroke="#1a1a1a" stroke-width="0.6"/>
<line x1="315.69" y1="229.2" x2="315.69" y2="230.8" stroke="#1a1a1a" stroke-width="0.6"/>
<line x1="316.51" y1="229.2" x2="316.51" y2="230.8" stroke="#1a1a1a" stroke-width="0.6"/>
<line x1="317.23" y1="229.2" x2="317.23" y2="230.8" stroke="#1a1a1a" stroke-width="0.6"/>
<line x1="322.11" y1="229.2" x2="322.11" y2="230.8" stroke="#1a1a1a" stroke-width="0.6"/>
<line x1="324.59" y1="229.2" x2="324.59" y2="230.8" stroke="#1a1a1a" stroke-width="0.6"/>
<line x1="326.35" y1="229.2" x2="326.35" y2="230.8" stroke="#1a1a1a" stroke-width="0.6"/>
<line x1="327.71" y1="229.2" x2="327.71" y2="230.8" stroke="#1a1a1a" stroke-width="0.6"/>
<line x1="328.83" y1="229.2" x2="328.83" y2="230.8" stroke="#1a1a1a" stroke-width="0.6"/>
<line x1="329.77" y1="229.2" x2="329.77" y2="230.8" stroke="#1a1a1a" stroke-width="0.6"/>
<line x1="330.59" y1="229.2" x2="330.59" y2="230.8" stroke="#1a1a1a" stroke-width="0.6"/>
<line x1="331.31" y1="229.2" x2="331.31" y2="230.8" stroke="#1a1a1a" stroke-width="0.6"/>
<line x1="336.19" y1="229.2" x2="336.19" y2="230.8" stroke="#1a1a1a" stroke-width="0.6"/>
<line x1="338.67" y1="229.2" x2="338.67" y2="230.8" stroke="#1a1a1a" stroke-width="0.6"/>
<line x1="340.42" y1="229.2" x2="340.42" y2="230.8" stroke="#1a1a1a" stroke-width="0.6"/>
<line x1="341.79" y1="229.2" x2="341.79" y2="230.8" stroke="#1a1a1a" stroke-width="0.6"/>
<line x1="342.9" y1="229.2" x2="342.9" y2="230.8" stroke="#1a1a1a" stroke-width="0.6"/>
<line x1="343.84" y1="229.2" x2="343.84" y2="230.8" stroke="#1a1a1a" stroke-width="0.6"/>
<line x1="344.66" y1="229.2" x2="344.66" y2="230.8" stroke="#1a1a1a" stroke-width="0.6"/>
<line x1="345.38" y1="229.2" x2="345.38" y2="230.8" stroke="#1a1a1a" stroke-width="0.6"/>
<line x1="350.26" y1="229.2" x2="350.26" y2="230.8" stroke="#1a1a1a" stroke-width="0.6"/>
<line x1="352.74" y1="229.2" x2="352.74" y2="230.8" stroke="#1a1a1a" stroke-width="0.6"/>
<line x1="354.5" y1="229.2" x2="354.5" y2="230.8" stroke="#1a1a1a" stroke-width="0.6"/>
<line x1="355.86" y1="229.2" x2="355.86" y2="230.8" stroke="#1a1a1a" stroke-width="0.6"/>
<line x1="356.98" y1="229.2" x2="356.98" y2="230.8" stroke="#1a1a1a" stroke-width="0.6"/>
<line x1="357.92" y1="229.2" x2="357.92" y2="230.8" stroke="#1a1a1a" stroke-width="0.6"/>
<line x1="358.74" y1="229.2" x2="358.74" y2="230.8" stroke="#1a1a1a" stroke-width="0.6"/>
<line x1="359.46" y1="229.2" x2="359.46" y2="230.8" stroke="#1a1a1a" stroke-width="0.6"/>
<line x1="303.8" y1="229.2" x2="303.8" y2="232.2" stroke="#1a1a1a" stroke-width="0.9"/>
<text x="304.6" y="242.6" font-size="6.4" text-anchor="middle" fill="#1a1a1a">10<tspan dy="-2.6" font-size="4">0</tspan></text>
<line x1="317.88" y1="229.2" x2="317.88" y2="232.2" stroke="#1a1a1a" stroke-width="0.9"/>
<text x="318.68" y="242.6" font-size="6.4" text-anchor="middle" fill="#1a1a1a">10<tspan dy="-2.6" font-size="4">1</tspan></text>
<line x1="331.95" y1="229.2" x2="331.95" y2="232.2" stroke="#1a1a1a" stroke-width="0.9"/>
<text x="332.75" y="242.6" font-size="6.4" text-anchor="middle" fill="#1a1a1a">10<tspan dy="-2.6" font-size="4">2</tspan></text>
<line x1="346.03" y1="229.2" x2="346.03" y2="232.2" stroke="#1a1a1a" stroke-width="0.9"/>
<text x="346.83" y="242.6" font-size="6.4" text-anchor="middle" fill="#1a1a1a">10<tspan dy="-2.6" font-size="4">3</tspan></text>
<line x1="360.1" y1="229.2" x2="360.1" y2="232.2" stroke="#1a1a1a" stroke-width="0.9"/>
<text x="360.9" y="242.6" font-size="6.4" text-anchor="middle" fill="#1a1a1a">10<tspan dy="-2.6" font-size="4">4</tspan></text>
<text x="331.95" y="171.5" font-size="9.8" text-anchor="middle" fill="#1a1a1a" textLength="44.8" lengthAdjust="spacingAndGlyphs" stroke="#1a1a1a" stroke-width="0.22">Nix-/- FCCP</text>
<text transform="translate(16.3 203.5) rotate(-90)" font-size="9.2" text-anchor="middle" fill="#1a1a1a" textLength="52.8" lengthAdjust="spacing" stroke="#1a1a1a" stroke-width="0.22">NAO staining</text>
<path d="M46.3 367.3 L46.3 367.2 L46.3 356.8 L46.9 365.4 L49.4 366.6 L51.8 365.4 L56.8 364.8 L60.5 362.9 L64.2 359.2 L67.2 351.8 L69.7 337.1 L72.2 319.8 L74 315.5 L75.8 321.1 L78.9 339.5 L81.4 356.8 L84.5 364.8 L87.5 367.2 L87.5 367.3 Z" fill="#bf5b3c"/>
<rect x="46.3" y="315.2" width="56.2" height="52.1" fill="none" stroke="#222" stroke-width="1.2"/>
<line x1="43.3" y1="367.3" x2="46.3" y2="367.3" stroke="#1a1a1a" stroke-width="0.9"/>
<text x="39.4" y="369.7" font-size="6.9" text-anchor="end" fill="#1a1a1a" stroke="#1a1a1a" stroke-width="0.1">0</text>
<line x1="43.3" y1="354.27" x2="46.3" y2="354.27" stroke="#1a1a1a" stroke-width="0.9"/>
<text x="39.4" y="356.67" font-size="6.9" text-anchor="end" fill="#1a1a1a" stroke="#1a1a1a" stroke-width="0.1">403</text>
<line x1="43.3" y1="341.25" x2="46.3" y2="341.25" stroke="#1a1a1a" stroke-width="0.9"/>
<text x="39.4" y="343.65" font-size="6.9" text-anchor="end" fill="#1a1a1a" stroke="#1a1a1a" stroke-width="0.1">805</text>
<line x1="43.3" y1="328.23" x2="46.3" y2="328.23" stroke="#1a1a1a" stroke-width="0.9"/>
<text x="39.4" y="330.62" font-size="6.9" text-anchor="end" fill="#1a1a1a" stroke="#1a1a1a" stroke-width="0.1">1208</text>
<line x1="43.3" y1="315.2" x2="46.3" y2="315.2" stroke="#1a1a1a" stroke-width="0.9"/>
<text x="39.4" y="317.6" font-size="6.9" text-anchor="end" fill="#1a1a1a" stroke="#1a1a1a" stroke-width="0.1">1610</text>
<line x1="44.5" y1="364.69" x2="46.3" y2="364.69" stroke="#1a1a1a" stroke-width="0.75"/>
<line x1="44.5" y1="362.09" x2="46.3" y2="362.09" stroke="#1a1a1a" stroke-width="0.75"/>
<line x1="44.5" y1="359.49" x2="46.3" y2="359.49" stroke="#1a1a1a" stroke-width="0.75"/>
<line x1="44.5" y1="356.88" x2="46.3" y2="356.88" stroke="#1a1a1a" stroke-width="0.75"/>
<line x1="44.5" y1="351.67" x2="46.3" y2="351.67" stroke="#1a1a1a" stroke-width="0.75"/>
<line x1="44.5" y1="349.06" x2="46.3" y2="349.06" stroke="#1a1a1a" stroke-width="0.75"/>
<line x1="44.5" y1="346.46" x2="46.3" y2="346.46" stroke="#1a1a1a" stroke-width="0.75"/>
<line x1="44.5" y1="343.86" x2="46.3" y2="343.86" stroke="#1a1a1a" stroke-width="0.75"/>
<line x1="44.5" y1="338.64" x2="46.3" y2="338.64" stroke="#1a1a1a" stroke-width="0.75"/>
<line x1="44.5" y1="336.04" x2="46.3" y2="336.04" stroke="#1a1a1a" stroke-width="0.75"/>
<line x1="44.5" y1="333.44" x2="46.3" y2="333.44" stroke="#1a1a1a" stroke-width="0.75"/>
<line x1="44.5" y1="330.83" x2="46.3" y2="330.83" stroke="#1a1a1a" stroke-width="0.75"/>
<line x1="44.5" y1="325.62" x2="46.3" y2="325.62" stroke="#1a1a1a" stroke-width="0.75"/>
<line x1="44.5" y1="323.01" x2="46.3" y2="323.01" stroke="#1a1a1a" stroke-width="0.75"/>
<line x1="44.5" y1="320.41" x2="46.3" y2="320.41" stroke="#1a1a1a" stroke-width="0.75"/>
<line x1="44.5" y1="317.81" x2="46.3" y2="317.81" stroke="#1a1a1a" stroke-width="0.75"/>
<line x1="50.53" y1="367.3" x2="50.53" y2="368.9" stroke="#1a1a1a" stroke-width="0.6"/>
<line x1="53" y1="367.3" x2="53" y2="368.9" stroke="#1a1a1a" stroke-width="0.6"/>
<line x1="54.76" y1="367.3" x2="54.76" y2="368.9" stroke="#1a1a1a" stroke-width="0.6"/>
<line x1="56.12" y1="367.3" x2="56.12" y2="368.9" stroke="#1a1a1a" stroke-width="0.6"/>
<line x1="57.23" y1="367.3" x2="57.23" y2="368.9" stroke="#1a1a1a" stroke-width="0.6"/>
<line x1="58.17" y1="367.3" x2="58.17" y2="368.9" stroke="#1a1a1a" stroke-width="0.6"/>
<line x1="58.99" y1="367.3" x2="58.99" y2="368.9" stroke="#1a1a1a" stroke-width="0.6"/>
<line x1="59.71" y1="367.3" x2="59.71" y2="368.9" stroke="#1a1a1a" stroke-width="0.6"/>
<line x1="64.58" y1="367.3" x2="64.58" y2="368.9" stroke="#1a1a1a" stroke-width="0.6"/>
<line x1="67.05" y1="367.3" x2="67.05" y2="368.9" stroke="#1a1a1a" stroke-width="0.6"/>
<line x1="68.81" y1="367.3" x2="68.81" y2="368.9" stroke="#1a1a1a" stroke-width="0.6"/>
<line x1="70.17" y1="367.3" x2="70.17" y2="368.9" stroke="#1a1a1a" stroke-width="0.6"/>
<line x1="71.28" y1="367.3" x2="71.28" y2="368.9" stroke="#1a1a1a" stroke-width="0.6"/>
<line x1="72.22" y1="367.3" x2="72.22" y2="368.9" stroke="#1a1a1a" stroke-width="0.6"/>
<line x1="73.04" y1="367.3" x2="73.04" y2="368.9" stroke="#1a1a1a" stroke-width="0.6"/>
<line x1="73.76" y1="367.3" x2="73.76" y2="368.9" stroke="#1a1a1a" stroke-width="0.6"/>
<line x1="78.63" y1="367.3" x2="78.63" y2="368.9" stroke="#1a1a1a" stroke-width="0.6"/>
<line x1="81.1" y1="367.3" x2="81.1" y2="368.9" stroke="#1a1a1a" stroke-width="0.6"/>
<line x1="82.86" y1="367.3" x2="82.86" y2="368.9" stroke="#1a1a1a" stroke-width="0.6"/>
<line x1="84.22" y1="367.3" x2="84.22" y2="368.9" stroke="#1a1a1a" stroke-width="0.6"/>
<line x1="85.33" y1="367.3" x2="85.33" y2="368.9" stroke="#1a1a1a" stroke-width="0.6"/>
<line x1="86.27" y1="367.3" x2="86.27" y2="368.9" stroke="#1a1a1a" stroke-width="0.6"/>
<line x1="87.09" y1="367.3" x2="87.09" y2="368.9" stroke="#1a1a1a" stroke-width="0.6"/>
<line x1="87.81" y1="367.3" x2="87.81" y2="368.9" stroke="#1a1a1a" stroke-width="0.6"/>
<line x1="92.68" y1="367.3" x2="92.68" y2="368.9" stroke="#1a1a1a" stroke-width="0.6"/>
<line x1="95.15" y1="367.3" x2="95.15" y2="368.9" stroke="#1a1a1a" stroke-width="0.6"/>
<line x1="96.91" y1="367.3" x2="96.91" y2="368.9" stroke="#1a1a1a" stroke-width="0.6"/>
<line x1="98.27" y1="367.3" x2="98.27" y2="368.9" stroke="#1a1a1a" stroke-width="0.6"/>
<line x1="99.38" y1="367.3" x2="99.38" y2="368.9" stroke="#1a1a1a" stroke-width="0.6"/>
<line x1="100.32" y1="367.3" x2="100.32" y2="368.9" stroke="#1a1a1a" stroke-width="0.6"/>
<line x1="101.14" y1="367.3" x2="101.14" y2="368.9" stroke="#1a1a1a" stroke-width="0.6"/>
<line x1="101.86" y1="367.3" x2="101.86" y2="368.9" stroke="#1a1a1a" stroke-width="0.6"/>
<line x1="46.3" y1="367.3" x2="46.3" y2="370.3" stroke="#1a1a1a" stroke-width="0.9"/>
<text x="47.1" y="380.7" font-size="6.4" text-anchor="middle" fill="#1a1a1a">10<tspan dy="-2.6" font-size="4">0</tspan></text>
<line x1="60.35" y1="367.3" x2="60.35" y2="370.3" stroke="#1a1a1a" stroke-width="0.9"/>
<text x="61.15" y="380.7" font-size="6.4" text-anchor="middle" fill="#1a1a1a">10<tspan dy="-2.6" font-size="4">1</tspan></text>
<line x1="74.4" y1="367.3" x2="74.4" y2="370.3" stroke="#1a1a1a" stroke-width="0.9"/>
<text x="75.2" y="380.7" font-size="6.4" text-anchor="middle" fill="#1a1a1a">10<tspan dy="-2.6" font-size="4">2</tspan></text>
<line x1="88.45" y1="367.3" x2="88.45" y2="370.3" stroke="#1a1a1a" stroke-width="0.9"/>
<text x="89.25" y="380.7" font-size="6.4" text-anchor="middle" fill="#1a1a1a">10<tspan dy="-2.6" font-size="4">3</tspan></text>
<line x1="102.5" y1="367.3" x2="102.5" y2="370.3" stroke="#1a1a1a" stroke-width="0.9"/>
<text x="103.3" y="380.7" font-size="6.4" text-anchor="middle" fill="#1a1a1a">10<tspan dy="-2.6" font-size="4">4</tspan></text>
<text x="74.4" y="309.6" font-size="9.8" text-anchor="middle" fill="#1a1a1a" textLength="43" lengthAdjust="spacingAndGlyphs" stroke="#1a1a1a" stroke-width="0.22">WT control</text>
<path d="M132.7 367.3 L132.7 367.2 L133.2 315.2 L133.9 335.8 L135.1 340.2 L136.9 335.2 L137.8 338.3 L139.7 334.6 L142.8 327.2 L145.8 318.6 L147.1 315.5 L149.5 318.6 L151.4 332.2 L153.8 353.1 L156.3 351.8 L158.2 352.5 L161.2 359.2 L164.9 364.2 L169.8 366.4 L179.7 366.9 L180.9 367.2 L180.9 367.3 Z" fill="#b36e90"/>
<rect x="132.7" y="315.2" width="55.8" height="52.1" fill="none" stroke="#222" stroke-width="1.2"/>
<line x1="129.7" y1="367.3" x2="132.7" y2="367.3" stroke="#1a1a1a" stroke-width="0.9"/>
<text x="125.8" y="369.7" font-size="6.9" text-anchor="end" fill="#1a1a1a" stroke="#1a1a1a" stroke-width="0.1">0</text>
<line x1="129.7" y1="354.27" x2="132.7" y2="354.27" stroke="#1a1a1a" stroke-width="0.9"/>
<text x="125.8" y="356.67" font-size="6.9" text-anchor="end" fill="#1a1a1a" stroke="#1a1a1a" stroke-width="0.1">971</text>
<line x1="129.7" y1="341.25" x2="132.7" y2="341.25" stroke="#1a1a1a" stroke-width="0.9"/>
<text x="125.8" y="343.65" font-size="6.9" text-anchor="end" fill="#1a1a1a" stroke="#1a1a1a" stroke-width="0.1">1942</text>
<line x1="129.7" y1="328.23" x2="132.7" y2="328.23" stroke="#1a1a1a" stroke-width="0.9"/>
<text x="125.8" y="330.62" font-size="6.9" text-anchor="end" fill="#1a1a1a" stroke="#1a1a1a" stroke-width="0.1">2913</text>
<line x1="129.7" y1="315.2" x2="132.7" y2="315.2" stroke="#1a1a1a" stroke-width="0.9"/>
<text x="125.8" y="317.6" font-size="6.9" text-anchor="end" fill="#1a1a1a" stroke="#1a1a1a" stroke-width="0.1">3884</text>
<line x1="130.9" y1="364.69" x2="132.7" y2="364.69" stroke="#1a1a1a" stroke-width="0.75"/>
<line x1="130.9" y1="362.09" x2="132.7" y2="362.09" stroke="#1a1a1a" stroke-width="0.75"/>
<line x1="130.9" y1="359.49" x2="132.7" y2="359.49" stroke="#1a1a1a" stroke-width="0.75"/>
<line x1="130.9" y1="356.88" x2="132.7" y2="356.88" stroke="#1a1a1a" stroke-width="0.75"/>
<line x1="130.9" y1="351.67" x2="132.7" y2="351.67" stroke="#1a1a1a" stroke-width="0.75"/>
<line x1="130.9" y1="349.06" x2="132.7" y2="349.06" stroke="#1a1a1a" stroke-width="0.75"/>
<line x1="130.9" y1="346.46" x2="132.7" y2="346.46" stroke="#1a1a1a" stroke-width="0.75"/>
<line x1="130.9" y1="343.86" x2="132.7" y2="343.86" stroke="#1a1a1a" stroke-width="0.75"/>
<line x1="130.9" y1="338.64" x2="132.7" y2="338.64" stroke="#1a1a1a" stroke-width="0.75"/>
<line x1="130.9" y1="336.04" x2="132.7" y2="336.04" stroke="#1a1a1a" stroke-width="0.75"/>
<line x1="130.9" y1="333.44" x2="132.7" y2="333.44" stroke="#1a1a1a" stroke-width="0.75"/>
<line x1="130.9" y1="330.83" x2="132.7" y2="330.83" stroke="#1a1a1a" stroke-width="0.75"/>
<line x1="130.9" y1="325.62" x2="132.7" y2="325.62" stroke="#1a1a1a" stroke-width="0.75"/>
<line x1="130.9" y1="323.01" x2="132.7" y2="323.01" stroke="#1a1a1a" stroke-width="0.75"/>
<line x1="130.9" y1="320.41" x2="132.7" y2="320.41" stroke="#1a1a1a" stroke-width="0.75"/>
<line x1="130.9" y1="317.81" x2="132.7" y2="317.81" stroke="#1a1a1a" stroke-width="0.75"/>
<line x1="136.9" y1="367.3" x2="136.9" y2="368.9" stroke="#1a1a1a" stroke-width="0.6"/>
<line x1="139.36" y1="367.3" x2="139.36" y2="368.9" stroke="#1a1a1a" stroke-width="0.6"/>
<line x1="141.1" y1="367.3" x2="141.1" y2="368.9" stroke="#1a1a1a" stroke-width="0.6"/>
<line x1="142.45" y1="367.3" x2="142.45" y2="368.9" stroke="#1a1a1a" stroke-width="0.6"/>
<line x1="143.56" y1="367.3" x2="143.56" y2="368.9" stroke="#1a1a1a" stroke-width="0.6"/>
<line x1="144.49" y1="367.3" x2="144.49" y2="368.9" stroke="#1a1a1a" stroke-width="0.6"/>
<line x1="145.3" y1="367.3" x2="145.3" y2="368.9" stroke="#1a1a1a" stroke-width="0.6"/>
<line x1="146.01" y1="367.3" x2="146.01" y2="368.9" stroke="#1a1a1a" stroke-width="0.6"/>
<line x1="150.85" y1="367.3" x2="150.85" y2="368.9" stroke="#1a1a1a" stroke-width="0.6"/>
<line x1="153.31" y1="367.3" x2="153.31" y2="368.9" stroke="#1a1a1a" stroke-width="0.6"/>
<line x1="155.05" y1="367.3" x2="155.05" y2="368.9" stroke="#1a1a1a" stroke-width="0.6"/>
<line x1="156.4" y1="367.3" x2="156.4" y2="368.9" stroke="#1a1a1a" stroke-width="0.6"/>
<line x1="157.51" y1="367.3" x2="157.51" y2="368.9" stroke="#1a1a1a" stroke-width="0.6"/>
<line x1="158.44" y1="367.3" x2="158.44" y2="368.9" stroke="#1a1a1a" stroke-width="0.6"/>
<line x1="159.25" y1="367.3" x2="159.25" y2="368.9" stroke="#1a1a1a" stroke-width="0.6"/>
<line x1="159.96" y1="367.3" x2="159.96" y2="368.9" stroke="#1a1a1a" stroke-width="0.6"/>
<line x1="164.8" y1="367.3" x2="164.8" y2="368.9" stroke="#1a1a1a" stroke-width="0.6"/>
<line x1="167.26" y1="367.3" x2="167.26" y2="368.9" stroke="#1a1a1a" stroke-width="0.6"/>
<line x1="169" y1="367.3" x2="169" y2="368.9" stroke="#1a1a1a" stroke-width="0.6"/>
<line x1="170.35" y1="367.3" x2="170.35" y2="368.9" stroke="#1a1a1a" stroke-width="0.6"/>
<line x1="171.46" y1="367.3" x2="171.46" y2="368.9" stroke="#1a1a1a" stroke-width="0.6"/>
<line x1="172.39" y1="367.3" x2="172.39" y2="368.9" stroke="#1a1a1a" stroke-width="0.6"/>
<line x1="173.2" y1="367.3" x2="173.2" y2="368.9" stroke="#1a1a1a" stroke-width="0.6"/>
<line x1="173.91" y1="367.3" x2="173.91" y2="368.9" stroke="#1a1a1a" stroke-width="0.6"/>
<line x1="178.75" y1="367.3" x2="178.75" y2="368.9" stroke="#1a1a1a" stroke-width="0.6"/>
<line x1="181.21" y1="367.3" x2="181.21" y2="368.9" stroke="#1a1a1a" stroke-width="0.6"/>
<line x1="182.95" y1="367.3" x2="182.95" y2="368.9" stroke="#1a1a1a" stroke-width="0.6"/>
<line x1="184.3" y1="367.3" x2="184.3" y2="368.9" stroke="#1a1a1a" stroke-width="0.6"/>
<line x1="185.41" y1="367.3" x2="185.41" y2="368.9" stroke="#1a1a1a" stroke-width="0.6"/>
<line x1="186.34" y1="367.3" x2="186.34" y2="368.9" stroke="#1a1a1a" stroke-width="0.6"/>
<line x1="187.15" y1="367.3" x2="187.15" y2="368.9" stroke="#1a1a1a" stroke-width="0.6"/>
<line x1="187.86" y1="367.3" x2="187.86" y2="368.9" stroke="#1a1a1a" stroke-width="0.6"/>
<line x1="132.7" y1="367.3" x2="132.7" y2="370.3" stroke="#1a1a1a" stroke-width="0.9"/>
<text x="133.5" y="380.7" font-size="6.4" text-anchor="middle" fill="#1a1a1a">10<tspan dy="-2.6" font-size="4">0</tspan></text>
<line x1="146.65" y1="367.3" x2="146.65" y2="370.3" stroke="#1a1a1a" stroke-width="0.9"/>
<text x="147.45" y="380.7" font-size="6.4" text-anchor="middle" fill="#1a1a1a">10<tspan dy="-2.6" font-size="4">1</tspan></text>
<line x1="160.6" y1="367.3" x2="160.6" y2="370.3" stroke="#1a1a1a" stroke-width="0.9"/>
<text x="161.4" y="380.7" font-size="6.4" text-anchor="middle" fill="#1a1a1a">10<tspan dy="-2.6" font-size="4">2</tspan></text>
<line x1="174.55" y1="367.3" x2="174.55" y2="370.3" stroke="#1a1a1a" stroke-width="0.9"/>
<text x="175.35" y="380.7" font-size="6.4" text-anchor="middle" fill="#1a1a1a">10<tspan dy="-2.6" font-size="4">3</tspan></text>
<line x1="188.5" y1="367.3" x2="188.5" y2="370.3" stroke="#1a1a1a" stroke-width="0.9"/>
<text x="189.3" y="380.7" font-size="6.4" text-anchor="middle" fill="#1a1a1a">10<tspan dy="-2.6" font-size="4">4</tspan></text>
<text x="160.6" y="309.6" font-size="9.8" text-anchor="middle" fill="#1a1a1a" textLength="36.2" lengthAdjust="spacingAndGlyphs" stroke="#1a1a1a" stroke-width="0.22">WT FCCP</text>
<path d="M218.3 367.3 L218.3 367.2 L218.3 356.8 L219.2 366 L223.8 365.4 L228.8 364.2 L232.5 361.1 L236.2 355.5 L238.6 345.7 L240.5 326 L242.6 315.5 L245.4 327.2 L247.2 339.5 L249.7 354.3 L252.2 364.2 L254.6 367.2 L254.6 367.3 Z" fill="#5d4a7d"/>
<rect x="218.1" y="315.2" width="56.3" height="52.1" fill="none" stroke="#222" stroke-width="1.2"/>
<line x1="215.1" y1="367.3" x2="218.1" y2="367.3" stroke="#1a1a1a" stroke-width="0.9"/>
<text x="211.2" y="369.7" font-size="6.9" text-anchor="end" fill="#1a1a1a" stroke="#1a1a1a" stroke-width="0.1">0</text>
<line x1="215.1" y1="354.27" x2="218.1" y2="354.27" stroke="#1a1a1a" stroke-width="0.9"/>
<text x="211.2" y="356.67" font-size="6.9" text-anchor="end" fill="#1a1a1a" stroke="#1a1a1a" stroke-width="0.1">932</text>
<line x1="215.1" y1="341.25" x2="218.1" y2="341.25" stroke="#1a1a1a" stroke-width="0.9"/>
<text x="211.2" y="343.65" font-size="6.9" text-anchor="end" fill="#1a1a1a" stroke="#1a1a1a" stroke-width="0.1">1765</text>
<line x1="215.1" y1="328.23" x2="218.1" y2="328.23" stroke="#1a1a1a" stroke-width="0.9"/>
<text x="211.2" y="330.62" font-size="6.9" text-anchor="end" fill="#1a1a1a" stroke="#1a1a1a" stroke-width="0.1">2647</text>
<line x1="215.1" y1="315.2" x2="218.1" y2="315.2" stroke="#1a1a1a" stroke-width="0.9"/>
<text x="211.2" y="317.6" font-size="6.9" text-anchor="end" fill="#1a1a1a" stroke="#1a1a1a" stroke-width="0.1">1529</text>
<line x1="216.3" y1="364.69" x2="218.1" y2="364.69" stroke="#1a1a1a" stroke-width="0.75"/>
<line x1="216.3" y1="362.09" x2="218.1" y2="362.09" stroke="#1a1a1a" stroke-width="0.75"/>
<line x1="216.3" y1="359.49" x2="218.1" y2="359.49" stroke="#1a1a1a" stroke-width="0.75"/>
<line x1="216.3" y1="356.88" x2="218.1" y2="356.88" stroke="#1a1a1a" stroke-width="0.75"/>
<line x1="216.3" y1="351.67" x2="218.1" y2="351.67" stroke="#1a1a1a" stroke-width="0.75"/>
<line x1="216.3" y1="349.06" x2="218.1" y2="349.06" stroke="#1a1a1a" stroke-width="0.75"/>
<line x1="216.3" y1="346.46" x2="218.1" y2="346.46" stroke="#1a1a1a" stroke-width="0.75"/>
<line x1="216.3" y1="343.86" x2="218.1" y2="343.86" stroke="#1a1a1a" stroke-width="0.75"/>
<line x1="216.3" y1="338.64" x2="218.1" y2="338.64" stroke="#1a1a1a" stroke-width="0.75"/>
<line x1="216.3" y1="336.04" x2="218.1" y2="336.04" stroke="#1a1a1a" stroke-width="0.75"/>
<line x1="216.3" y1="333.44" x2="218.1" y2="333.44" stroke="#1a1a1a" stroke-width="0.75"/>
<line x1="216.3" y1="330.83" x2="218.1" y2="330.83" stroke="#1a1a1a" stroke-width="0.75"/>
<line x1="216.3" y1="325.62" x2="218.1" y2="325.62" stroke="#1a1a1a" stroke-width="0.75"/>
<line x1="216.3" y1="323.01" x2="218.1" y2="323.01" stroke="#1a1a1a" stroke-width="0.75"/>
<line x1="216.3" y1="320.41" x2="218.1" y2="320.41" stroke="#1a1a1a" stroke-width="0.75"/>
<line x1="216.3" y1="317.81" x2="218.1" y2="317.81" stroke="#1a1a1a" stroke-width="0.75"/>
<line x1="222.34" y1="367.3" x2="222.34" y2="368.9" stroke="#1a1a1a" stroke-width="0.6"/>
<line x1="224.82" y1="367.3" x2="224.82" y2="368.9" stroke="#1a1a1a" stroke-width="0.6"/>
<line x1="226.57" y1="367.3" x2="226.57" y2="368.9" stroke="#1a1a1a" stroke-width="0.6"/>
<line x1="227.94" y1="367.3" x2="227.94" y2="368.9" stroke="#1a1a1a" stroke-width="0.6"/>
<line x1="229.05" y1="367.3" x2="229.05" y2="368.9" stroke="#1a1a1a" stroke-width="0.6"/>
<line x1="229.99" y1="367.3" x2="229.99" y2="368.9" stroke="#1a1a1a" stroke-width="0.6"/>
<line x1="230.81" y1="367.3" x2="230.81" y2="368.9" stroke="#1a1a1a" stroke-width="0.6"/>
<line x1="231.53" y1="367.3" x2="231.53" y2="368.9" stroke="#1a1a1a" stroke-width="0.6"/>
<line x1="236.41" y1="367.3" x2="236.41" y2="368.9" stroke="#1a1a1a" stroke-width="0.6"/>
<line x1="238.89" y1="367.3" x2="238.89" y2="368.9" stroke="#1a1a1a" stroke-width="0.6"/>
<line x1="240.65" y1="367.3" x2="240.65" y2="368.9" stroke="#1a1a1a" stroke-width="0.6"/>
<line x1="242.01" y1="367.3" x2="242.01" y2="368.9" stroke="#1a1a1a" stroke-width="0.6"/>
<line x1="243.13" y1="367.3" x2="243.13" y2="368.9" stroke="#1a1a1a" stroke-width="0.6"/>
<line x1="244.07" y1="367.3" x2="244.07" y2="368.9" stroke="#1a1a1a" stroke-width="0.6"/>
<line x1="244.89" y1="367.3" x2="244.89" y2="368.9" stroke="#1a1a1a" stroke-width="0.6"/>
<line x1="245.61" y1="367.3" x2="245.61" y2="368.9" stroke="#1a1a1a" stroke-width="0.6"/>
<line x1="250.49" y1="367.3" x2="250.49" y2="368.9" stroke="#1a1a1a" stroke-width="0.6"/>
<line x1="252.97" y1="367.3" x2="252.97" y2="368.9" stroke="#1a1a1a" stroke-width="0.6"/>
<line x1="254.72" y1="367.3" x2="254.72" y2="368.9" stroke="#1a1a1a" stroke-width="0.6"/>
<line x1="256.09" y1="367.3" x2="256.09" y2="368.9" stroke="#1a1a1a" stroke-width="0.6"/>
<line x1="257.2" y1="367.3" x2="257.2" y2="368.9" stroke="#1a1a1a" stroke-width="0.6"/>
<line x1="258.14" y1="367.3" x2="258.14" y2="368.9" stroke="#1a1a1a" stroke-width="0.6"/>
<line x1="258.96" y1="367.3" x2="258.96" y2="368.9" stroke="#1a1a1a" stroke-width="0.6"/>
<line x1="259.68" y1="367.3" x2="259.68" y2="368.9" stroke="#1a1a1a" stroke-width="0.6"/>
<line x1="264.56" y1="367.3" x2="264.56" y2="368.9" stroke="#1a1a1a" stroke-width="0.6"/>
<line x1="267.04" y1="367.3" x2="267.04" y2="368.9" stroke="#1a1a1a" stroke-width="0.6"/>
<line x1="268.8" y1="367.3" x2="268.8" y2="368.9" stroke="#1a1a1a" stroke-width="0.6"/>
<line x1="270.16" y1="367.3" x2="270.16" y2="368.9" stroke="#1a1a1a" stroke-width="0.6"/>
<line x1="271.28" y1="367.3" x2="271.28" y2="368.9" stroke="#1a1a1a" stroke-width="0.6"/>
<line x1="272.22" y1="367.3" x2="272.22" y2="368.9" stroke="#1a1a1a" stroke-width="0.6"/>
<line x1="273.04" y1="367.3" x2="273.04" y2="368.9" stroke="#1a1a1a" stroke-width="0.6"/>
<line x1="273.76" y1="367.3" x2="273.76" y2="368.9" stroke="#1a1a1a" stroke-width="0.6"/>
<line x1="218.1" y1="367.3" x2="218.1" y2="370.3" stroke="#1a1a1a" stroke-width="0.9"/>
<text x="218.9" y="380.7" font-size="6.4" text-anchor="middle" fill="#1a1a1a">10<tspan dy="-2.6" font-size="4">0</tspan></text>
<line x1="232.17" y1="367.3" x2="232.17" y2="370.3" stroke="#1a1a1a" stroke-width="0.9"/>
<text x="232.97" y="380.7" font-size="6.4" text-anchor="middle" fill="#1a1a1a">10<tspan dy="-2.6" font-size="4">1</tspan></text>
<line x1="246.25" y1="367.3" x2="246.25" y2="370.3" stroke="#1a1a1a" stroke-width="0.9"/>
<text x="247.05" y="380.7" font-size="6.4" text-anchor="middle" fill="#1a1a1a">10<tspan dy="-2.6" font-size="4">2</tspan></text>
<line x1="260.32" y1="367.3" x2="260.32" y2="370.3" stroke="#1a1a1a" stroke-width="0.9"/>
<text x="261.12" y="380.7" font-size="6.4" text-anchor="middle" fill="#1a1a1a">10<tspan dy="-2.6" font-size="4">3</tspan></text>
<line x1="274.4" y1="367.3" x2="274.4" y2="370.3" stroke="#1a1a1a" stroke-width="0.9"/>
<text x="275.2" y="380.7" font-size="6.4" text-anchor="middle" fill="#1a1a1a">10<tspan dy="-2.6" font-size="4">4</tspan></text>
<text x="246.25" y="309.6" font-size="9.8" text-anchor="middle" fill="#1a1a1a" textLength="52.5" lengthAdjust="spacingAndGlyphs" stroke="#1a1a1a" stroke-width="0.22">Nix-/- control</text>
<path d="M304.3 367.3 L304.3 367.2 L304.7 315.5 L305.2 334.6 L306.2 340.2 L307.4 338.3 L308.4 334.6 L309.2 338.3 L311.7 332.2 L314.2 328.5 L316.6 319.8 L318.5 315.5 L320.3 321.1 L322.2 326 L324 344.5 L325.8 353.7 L328.1 346.9 L329.5 344.5 L331.4 349.4 L334.5 361.7 L338.2 365.6 L343.7 367.2 L343.7 367.3 Z" fill="#68abb2"/>
<rect x="304.2" y="315.2" width="56.1" height="52.1" fill="none" stroke="#222" stroke-width="1.2"/>
<line x1="301.2" y1="367.3" x2="304.2" y2="367.3" stroke="#1a1a1a" stroke-width="0.9"/>
<text x="297.3" y="369.7" font-size="6.9" text-anchor="end" fill="#1a1a1a" stroke="#1a1a1a" stroke-width="0.1">0</text>
<line x1="301.2" y1="354.27" x2="304.2" y2="354.27" stroke="#1a1a1a" stroke-width="0.9"/>
<text x="297.3" y="356.67" font-size="6.9" text-anchor="end" fill="#1a1a1a" stroke="#1a1a1a" stroke-width="0.1">805</text>
<line x1="301.2" y1="341.25" x2="304.2" y2="341.25" stroke="#1a1a1a" stroke-width="0.9"/>
<text x="297.3" y="343.65" font-size="6.9" text-anchor="end" fill="#1a1a1a" stroke="#1a1a1a" stroke-width="0.1">1609</text>
<line x1="301.2" y1="328.23" x2="304.2" y2="328.23" stroke="#1a1a1a" stroke-width="0.9"/>
<text x="297.3" y="330.62" font-size="6.9" text-anchor="end" fill="#1a1a1a" stroke="#1a1a1a" stroke-width="0.1">2414</text>
<line x1="301.2" y1="315.2" x2="304.2" y2="315.2" stroke="#1a1a1a" stroke-width="0.9"/>
<text x="297.3" y="317.6" font-size="6.9" text-anchor="end" fill="#1a1a1a" stroke="#1a1a1a" stroke-width="0.1">3218</text>
<line x1="302.4" y1="364.69" x2="304.2" y2="364.69" stroke="#1a1a1a" stroke-width="0.75"/>
<line x1="302.4" y1="362.09" x2="304.2" y2="362.09" stroke="#1a1a1a" stroke-width="0.75"/>
<line x1="302.4" y1="359.49" x2="304.2" y2="359.49" stroke="#1a1a1a" stroke-width="0.75"/>
<line x1="302.4" y1="356.88" x2="304.2" y2="356.88" stroke="#1a1a1a" stroke-width="0.75"/>
<line x1="302.4" y1="351.67" x2="304.2" y2="351.67" stroke="#1a1a1a" stroke-width="0.75"/>
<line x1="302.4" y1="349.06" x2="304.2" y2="349.06" stroke="#1a1a1a" stroke-width="0.75"/>
<line x1="302.4" y1="346.46" x2="304.2" y2="346.46" stroke="#1a1a1a" stroke-width="0.75"/>
<line x1="302.4" y1="343.86" x2="304.2" y2="343.86" stroke="#1a1a1a" stroke-width="0.75"/>
<line x1="302.4" y1="338.64" x2="304.2" y2="338.64" stroke="#1a1a1a" stroke-width="0.75"/>
<line x1="302.4" y1="336.04" x2="304.2" y2="336.04" stroke="#1a1a1a" stroke-width="0.75"/>
<line x1="302.4" y1="333.44" x2="304.2" y2="333.44" stroke="#1a1a1a" stroke-width="0.75"/>
<line x1="302.4" y1="330.83" x2="304.2" y2="330.83" stroke="#1a1a1a" stroke-width="0.75"/>
<line x1="302.4" y1="325.62" x2="304.2" y2="325.62" stroke="#1a1a1a" stroke-width="0.75"/>
<line x1="302.4" y1="323.01" x2="304.2" y2="323.01" stroke="#1a1a1a" stroke-width="0.75"/>
<line x1="302.4" y1="320.41" x2="304.2" y2="320.41" stroke="#1a1a1a" stroke-width="0.75"/>
<line x1="302.4" y1="317.81" x2="304.2" y2="317.81" stroke="#1a1a1a" stroke-width="0.75"/>
<line x1="308.42" y1="367.3" x2="308.42" y2="368.9" stroke="#1a1a1a" stroke-width="0.6"/>
<line x1="310.89" y1="367.3" x2="310.89" y2="368.9" stroke="#1a1a1a" stroke-width="0.6"/>
<line x1="312.64" y1="367.3" x2="312.64" y2="368.9" stroke="#1a1a1a" stroke-width="0.6"/>
<line x1="314" y1="367.3" x2="314" y2="368.9" stroke="#1a1a1a" stroke-width="0.6"/>
<line x1="315.11" y1="367.3" x2="315.11" y2="368.9" stroke="#1a1a1a" stroke-width="0.6"/>
<line x1="316.05" y1="367.3" x2="316.05" y2="368.9" stroke="#1a1a1a" stroke-width="0.6"/>
<line x1="316.87" y1="367.3" x2="316.87" y2="368.9" stroke="#1a1a1a" stroke-width="0.6"/>
<line x1="317.58" y1="367.3" x2="317.58" y2="368.9" stroke="#1a1a1a" stroke-width="0.6"/>
<line x1="322.45" y1="367.3" x2="322.45" y2="368.9" stroke="#1a1a1a" stroke-width="0.6"/>
<line x1="324.92" y1="367.3" x2="324.92" y2="368.9" stroke="#1a1a1a" stroke-width="0.6"/>
<line x1="326.67" y1="367.3" x2="326.67" y2="368.9" stroke="#1a1a1a" stroke-width="0.6"/>
<line x1="328.03" y1="367.3" x2="328.03" y2="368.9" stroke="#1a1a1a" stroke-width="0.6"/>
<line x1="329.14" y1="367.3" x2="329.14" y2="368.9" stroke="#1a1a1a" stroke-width="0.6"/>
<line x1="330.08" y1="367.3" x2="330.08" y2="368.9" stroke="#1a1a1a" stroke-width="0.6"/>
<line x1="330.89" y1="367.3" x2="330.89" y2="368.9" stroke="#1a1a1a" stroke-width="0.6"/>
<line x1="331.61" y1="367.3" x2="331.61" y2="368.9" stroke="#1a1a1a" stroke-width="0.6"/>
<line x1="336.47" y1="367.3" x2="336.47" y2="368.9" stroke="#1a1a1a" stroke-width="0.6"/>
<line x1="338.94" y1="367.3" x2="338.94" y2="368.9" stroke="#1a1a1a" stroke-width="0.6"/>
<line x1="340.69" y1="367.3" x2="340.69" y2="368.9" stroke="#1a1a1a" stroke-width="0.6"/>
<line x1="342.05" y1="367.3" x2="342.05" y2="368.9" stroke="#1a1a1a" stroke-width="0.6"/>
<line x1="343.16" y1="367.3" x2="343.16" y2="368.9" stroke="#1a1a1a" stroke-width="0.6"/>
<line x1="344.1" y1="367.3" x2="344.1" y2="368.9" stroke="#1a1a1a" stroke-width="0.6"/>
<line x1="344.92" y1="367.3" x2="344.92" y2="368.9" stroke="#1a1a1a" stroke-width="0.6"/>
<line x1="345.63" y1="367.3" x2="345.63" y2="368.9" stroke="#1a1a1a" stroke-width="0.6"/>
<line x1="350.5" y1="367.3" x2="350.5" y2="368.9" stroke="#1a1a1a" stroke-width="0.6"/>
<line x1="352.97" y1="367.3" x2="352.97" y2="368.9" stroke="#1a1a1a" stroke-width="0.6"/>
<line x1="354.72" y1="367.3" x2="354.72" y2="368.9" stroke="#1a1a1a" stroke-width="0.6"/>
<line x1="356.08" y1="367.3" x2="356.08" y2="368.9" stroke="#1a1a1a" stroke-width="0.6"/>
<line x1="357.19" y1="367.3" x2="357.19" y2="368.9" stroke="#1a1a1a" stroke-width="0.6"/>
<line x1="358.13" y1="367.3" x2="358.13" y2="368.9" stroke="#1a1a1a" stroke-width="0.6"/>
<line x1="358.94" y1="367.3" x2="358.94" y2="368.9" stroke="#1a1a1a" stroke-width="0.6"/>
<line x1="359.66" y1="367.3" x2="359.66" y2="368.9" stroke="#1a1a1a" stroke-width="0.6"/>
<line x1="304.2" y1="367.3" x2="304.2" y2="370.3" stroke="#1a1a1a" stroke-width="0.9"/>
<text x="305" y="380.7" font-size="6.4" text-anchor="middle" fill="#1a1a1a">10<tspan dy="-2.6" font-size="4">0</tspan></text>
<line x1="318.23" y1="367.3" x2="318.23" y2="370.3" stroke="#1a1a1a" stroke-width="0.9"/>
<text x="319.03" y="380.7" font-size="6.4" text-anchor="middle" fill="#1a1a1a">10<tspan dy="-2.6" font-size="4">1</tspan></text>
<line x1="332.25" y1="367.3" x2="332.25" y2="370.3" stroke="#1a1a1a" stroke-width="0.9"/>
<text x="333.05" y="380.7" font-size="6.4" text-anchor="middle" fill="#1a1a1a">10<tspan dy="-2.6" font-size="4">2</tspan></text>
<line x1="346.27" y1="367.3" x2="346.27" y2="370.3" stroke="#1a1a1a" stroke-width="0.9"/>
<text x="347.07" y="380.7" font-size="6.4" text-anchor="middle" fill="#1a1a1a">10<tspan dy="-2.6" font-size="4">3</tspan></text>
<line x1="360.3" y1="367.3" x2="360.3" y2="370.3" stroke="#1a1a1a" stroke-width="0.9"/>
<text x="361.1" y="380.7" font-size="6.4" text-anchor="middle" fill="#1a1a1a">10<tspan dy="-2.6" font-size="4">4</tspan></text>
<text x="332.25" y="309.6" font-size="9.8" text-anchor="middle" fill="#1a1a1a" textLength="44.8" lengthAdjust="spacingAndGlyphs" stroke="#1a1a1a" stroke-width="0.22">Nix-/- FCCP</text>
<text transform="translate(16 341.5) rotate(-90)" font-size="9.9" text-anchor="middle" fill="#1a1a1a" textLength="22.1" lengthAdjust="spacingAndGlyphs" stroke="#1a1a1a" stroke-width="0.22">TMRE</text>
<line x1="27.5" y1="464" x2="34.9" y2="464" stroke="#e0609e" stroke-width="1.3"/>
<text x="38" y="466.6" font-size="7.3" text-anchor="start" fill="#1a1a1a" textLength="27.2" lengthAdjust="spacingAndGlyphs" stroke="#1a1a1a" stroke-width="0.1">WT FCCP</text>
<line x1="27.5" y1="473.85" x2="34.9" y2="473.85" stroke="#50bde0" stroke-width="1.3"/>
<text x="38" y="476.45" font-size="7.3" text-anchor="start" fill="#1a1a1a" textLength="34.2" lengthAdjust="spacingAndGlyphs" stroke="#1a1a1a" stroke-width="0.1">Nix-/- FCCP</text>
<line x1="27.5" y1="483.7" x2="34.9" y2="483.7" stroke="#5e55a0" stroke-width="1.3"/>
<text x="38" y="486.3" font-size="7.3" text-anchor="start" fill="#1a1a1a" textLength="40" lengthAdjust="spacing" stroke="#1a1a1a" stroke-width="0.1">Nix-/- control</text>
<line x1="27.5" y1="493.55" x2="34.9" y2="493.55" stroke="#e8705f" stroke-width="1.3"/>
<text x="38" y="496.15" font-size="7.3" text-anchor="start" fill="#1a1a1a" textLength="33.4" lengthAdjust="spacingAndGlyphs" stroke="#1a1a1a" stroke-width="0.1">WT control</text>
<text x="125.2" y="443.3" font-size="7" text-anchor="start" fill="#1a1a1a" textLength="29.4" lengthAdjust="spacing" stroke="#1a1a1a" stroke-width="0.1">Thrombin</text>
<line x1="127.3" y1="444.5" x2="127.3" y2="447.7" stroke="#1a1a1a" stroke-width="0.8"/>
<path d="M125 447.2L129.6 447.2L127.3 451Z" fill="#1a1a1a"/>
<line x1="127.3" y1="448.9" x2="127.3" y2="453.4" stroke="#e0609e" stroke-width="0.9" stroke-dasharray="1.5 1" opacity="0.45"/>
<path d="M127.3 453.4 C128.08 453.53 130.55 453.93 132 454.2 C133.45 454.47 134.5 454.28 136 455 C137.5 455.72 139.28 457.05 141 458.5 C142.72 459.95 143.97 461.45 146.3 463.7 C148.63 465.95 152.38 470.23 155 472 C157.62 473.77 159.4 473.75 162 474.3 C164.6 474.85 167.6 475.02 170.6 475.3 C173.6 475.58 176.7 475.82 180 476 C183.3 476.18 188.67 476.33 190.4 476.4" fill="none" stroke="#e0609e" stroke-width="1"/>
<line x1="127.3" y1="459.8" x2="127.3" y2="464.3" stroke="#50bde0" stroke-width="0.9" stroke-dasharray="1.5 1" opacity="0.45"/>
<path d="M127.3 464.3 C128.08 464.3 130.27 464.27 132 464.3 C133.73 464.33 135.6 463.88 137.7 464.5 C139.8 465.12 142 465.68 144.6 468 C147.2 470.32 150.4 475.37 153.3 478.4 C156.2 481.43 158.55 484.17 162 486.2 C165.45 488.23 170.67 489.53 174 490.6 C177.33 491.67 179.27 492.08 182 492.6 C184.73 493.12 189 493.52 190.4 493.7" fill="none" stroke="#50bde0" stroke-width="1"/>
<line x1="127.3" y1="464.5" x2="127.3" y2="469" stroke="#5e55a0" stroke-width="0.9" stroke-dasharray="1.5 1" opacity="0.45"/>
<path d="M127.3 469 C127.92 469 129.72 468.9 131 469 C132.28 469.1 133.75 468.85 135 469.6 C136.25 470.35 137.45 472.15 138.5 473.5 C139.55 474.85 140.02 475.4 141.3 477.7 C142.58 480 144.67 484.42 146.2 487.3 C147.73 490.18 148.9 492.75 150.5 495 C152.1 497.25 153.63 499.03 155.8 500.8 C157.97 502.57 160.3 504.17 163.5 505.6 C166.7 507.03 170.52 508.3 175 509.4 C179.48 510.5 187.83 511.73 190.4 512.2" fill="none" stroke="#5e55a0" stroke-width="1"/>
<line x1="127.3" y1="474.6" x2="127.3" y2="479.1" stroke="#e8705f" stroke-width="0.9" stroke-dasharray="1.5 1" opacity="0.45"/>
<path d="M127.3 479.1 C127.92 479.1 129.7 479.07 131 479.1 C132.3 479.13 133.93 478.57 135.1 479.3 C136.27 480.03 137.03 481.52 138 483.5 C138.97 485.48 140.02 488.65 140.9 491.2 C141.78 493.75 142.5 496.4 143.3 498.8 C144.1 501.2 144.75 503.52 145.7 505.6 C146.65 507.68 147.65 509.38 149 511.3 C150.35 513.22 152.03 515.57 153.8 517.1 C155.57 518.63 157.52 519.7 159.6 520.5 C161.68 521.3 163.23 521.67 166.3 521.9 C169.37 522.13 173.98 521.9 178 521.9 C182.02 521.9 188.33 521.9 190.4 521.9" fill="none" stroke="#e8705f" stroke-width="1"/>
<text x="224" y="443.3" font-size="7" text-anchor="start" fill="#1a1a1a" textLength="26.5" lengthAdjust="spacingAndGlyphs" stroke="#1a1a1a" stroke-width="0.1">Collagen</text>
<line x1="225.4" y1="444.5" x2="225.4" y2="447.7" stroke="#1a1a1a" stroke-width="0.8"/>
<path d="M223.1 447.2L227.7 447.2L225.4 451Z" fill="#1a1a1a"/>
<line x1="224.7" y1="450.6" x2="224.7" y2="455.1" stroke="#e0609e" stroke-width="0.9" stroke-dasharray="1.5 1" opacity="0.45"/>
<path d="M224.7 455.1 C225.93 455.03 229.75 454.82 232.1 454.7 C234.45 454.58 236.78 454.12 238.8 454.4 C240.82 454.68 242.5 455.38 244.2 456.4 C245.9 457.42 247.43 459.03 249 460.5 C250.57 461.97 251.7 463.63 253.6 465.2 C255.5 466.77 257.48 468.45 260.4 469.9 C263.32 471.35 266.5 472.67 271.1 473.9 C275.7 475.13 285.18 476.73 288 477.3" fill="none" stroke="#e0609e" stroke-width="1"/>
<line x1="224.7" y1="458" x2="224.7" y2="462.5" stroke="#50bde0" stroke-width="0.9" stroke-dasharray="1.5 1" opacity="0.45"/>
<path d="M224.7 462.5 C225.93 462.38 230.05 462.12 232.1 461.8 C234.15 461.48 235.43 460.93 237 460.6 C238.57 460.27 240.25 459.85 241.5 459.8 C242.75 459.75 243.6 459.97 244.5 460.3 C245.4 460.63 245.82 460.42 246.9 461.8 C247.98 463.18 249.65 465.8 251 468.6 C252.35 471.4 253.43 475.8 255 478.6 C256.57 481.4 257.72 483.6 260.4 485.4 C263.08 487.2 266.5 488.17 271.1 489.4 C275.7 490.63 285.18 492.23 288 492.8" fill="none" stroke="#50bde0" stroke-width="1"/>
<line x1="224.7" y1="463.1" x2="224.7" y2="467.6" stroke="#5e55a0" stroke-width="0.9" stroke-dasharray="1.5 1" opacity="0.45"/>
<path d="M224.7 467.6 C225.25 467.6 226.98 467.58 228 467.6 C229.02 467.62 229.67 467.32 230.8 467.7 C231.93 468.08 233.35 467.85 234.8 469.9 C236.25 471.95 238.03 476.3 239.5 480 C240.97 483.7 241.92 488.97 243.6 492.1 C245.28 495.23 247.25 497 249.6 498.8 C251.95 500.6 253.67 501.67 257.7 502.9 C261.73 504.13 268.75 505.48 273.8 506.2 C278.85 506.92 285.63 507.03 288 507.2" fill="none" stroke="#5e55a0" stroke-width="1"/>
<line x1="224.7" y1="474.8" x2="224.7" y2="479.3" stroke="#e8705f" stroke-width="0.9" stroke-dasharray="1.5 1" opacity="0.45"/>
<path d="M224.7 479.3 C225.25 479.3 226.98 479.28 228 479.3 C229.02 479.32 229.67 478.95 230.8 479.4 C231.93 479.85 233.47 480.1 234.8 482 C236.13 483.9 237.57 487.55 238.8 490.8 C240.03 494.05 240.85 497.92 242.2 501.5 C243.55 505.08 245.22 509.27 246.9 512.3 C248.58 515.33 250.5 518.02 252.3 519.7 C254.1 521.38 254.75 521.95 257.7 522.4 C260.65 522.85 264.95 522.4 270 522.4 C275.05 522.4 285 522.4 288 522.4" fill="none" stroke="#e8705f" stroke-width="1"/>
<text x="321.6" y="443.3" font-size="7" text-anchor="start" fill="#1a1a1a" textLength="12.8" lengthAdjust="spacingAndGlyphs" stroke="#1a1a1a" stroke-width="0.1">ADP</text>
<line x1="322.8" y1="444.5" x2="322.8" y2="447.7" stroke="#1a1a1a" stroke-width="0.8"/>
<path d="M320.5 447.2L325.1 447.2L322.8 451Z" fill="#1a1a1a"/>
<line x1="322.7" y1="450.6" x2="322.7" y2="455.1" stroke="#e0609e" stroke-width="0.9" stroke-dasharray="1.5 1" opacity="0.45"/>
<path d="M322.7 455.1 C323.48 454.98 325.85 454.72 327.4 454.4 C328.95 454.08 330.43 453.53 332 453.2 C333.57 452.87 335.1 452.38 336.8 452.4 C338.5 452.42 339.73 452.4 342.2 453.3 C344.67 454.2 348.45 456.38 351.6 457.8 C354.75 459.22 357.73 460.8 361.1 461.8 C364.47 462.8 367.65 463.35 371.8 463.8 C375.95 464.25 383.63 464.38 386 464.5" fill="none" stroke="#e0609e" stroke-width="1"/>
<line x1="322.7" y1="456.9" x2="322.7" y2="461.4" stroke="#50bde0" stroke-width="0.9" stroke-dasharray="1.5 1" opacity="0.45"/>
<path d="M322.7 461.4 C323.42 461.4 325.77 461.38 327 461.4 C328.23 461.42 328.9 461.1 330.1 461.5 C331.3 461.9 332.63 462.28 334.2 463.8 C335.77 465.32 337.72 468.23 339.5 470.6 C341.28 472.97 342.88 475.65 344.9 478 C346.92 480.35 348.9 482.8 351.6 484.7 C354.3 486.6 357.73 488.17 361.1 489.4 C364.47 490.63 367.65 491.42 371.8 492.1 C375.95 492.78 383.63 493.27 386 493.5" fill="none" stroke="#50bde0" stroke-width="1"/>
<line x1="322.7" y1="469.4" x2="322.7" y2="473.9" stroke="#5e55a0" stroke-width="0.9" stroke-dasharray="1.5 1" opacity="0.45"/>
<path d="M322.7 473.9 C323.72 473.8 327.12 473.52 328.8 473.3 C330.48 473.08 331.47 472.5 332.8 472.6 C334.13 472.7 335.23 472.67 336.8 473.9 C338.37 475.13 340.4 477.42 342.2 480 C344 482.58 345.8 486.27 347.6 489.4 C349.4 492.53 351.2 496.1 353 498.8 C354.8 501.5 355.72 503.35 358.4 505.6 C361.08 507.85 364.5 510.78 369.1 512.3 C373.7 513.82 383.18 514.3 386 514.7" fill="none" stroke="#5e55a0" stroke-width="1"/>
<line x1="322.7" y1="475.8" x2="322.7" y2="480.3" stroke="#e8705f" stroke-width="0.9" stroke-dasharray="1.5 1" opacity="0.45"/>
<path d="M322.7 480.3 C323.48 480.47 326.05 480.68 327.4 481.3 C328.75 481.92 329.45 481.97 330.8 484 C332.15 486.03 333.93 489.9 335.5 493.5 C337.07 497.1 338.63 501.8 340.2 505.6 C341.77 509.4 343.33 513.43 344.9 516.3 C346.47 519.17 347.08 521.72 349.6 522.8 C352.12 523.88 353.93 522.8 360 522.8 C366.07 522.8 381.67 522.8 386 522.8" fill="none" stroke="#e8705f" stroke-width="1"/>
<text x="421" y="443.3" font-size="7" text-anchor="start" fill="#1a1a1a" textLength="22.5" lengthAdjust="spacingAndGlyphs" stroke="#1a1a1a" stroke-width="0.1">U46619</text>
<line x1="421.9" y1="444.5" x2="421.9" y2="447.7" stroke="#1a1a1a" stroke-width="0.8"/>
<path d="M419.6 447.2L424.2 447.2L421.9 451Z" fill="#1a1a1a"/>
<line x1="421.9" y1="452.8" x2="421.9" y2="457.3" stroke="#e0609e" stroke-width="0.9" stroke-dasharray="1.5 1" opacity="0.45"/>
<path d="M421.9 457.3 C423.05 457.22 426.2 457.17 428.8 456.8 C431.4 456.43 434.62 454.95 437.5 455.1 C440.38 455.25 442.07 456.63 446.1 457.7 C450.13 458.77 455.3 460.78 461.7 461.5 C468.1 462.22 480.7 461.92 484.5 462" fill="none" stroke="#e0609e" stroke-width="1"/>
<line x1="421.9" y1="459.2" x2="421.9" y2="463.7" stroke="#50bde0" stroke-width="0.9" stroke-dasharray="1.5 1" opacity="0.45"/>
<path d="M421.9 463.7 C423.35 463.57 427.72 462.6 430.6 462.9 C433.48 463.2 436.03 463.2 439.2 465.5 C442.37 467.8 446.13 473.38 449.6 476.7 C453.07 480.02 456.27 483.38 460 485.4 C463.73 487.42 467.92 488 472 488.8 C476.08 489.6 482.42 489.97 484.5 490.2" fill="none" stroke="#50bde0" stroke-width="1"/>
<line x1="421.9" y1="465.3" x2="421.9" y2="469.8" stroke="#5e55a0" stroke-width="0.9" stroke-dasharray="1.5 1" opacity="0.45"/>
<path d="M421.9 469.8 C423.35 469.73 428.28 468.53 430.6 469.4 C432.92 470.27 434.07 472.05 435.8 475 C437.53 477.95 438.7 483.78 441 487.1 C443.3 490.42 445.87 492.88 449.6 494.9 C453.33 496.92 457.58 498.13 463.4 499.2 C469.22 500.27 480.98 500.95 484.5 501.3" fill="none" stroke="#5e55a0" stroke-width="1"/>
<line x1="421.9" y1="472.2" x2="421.9" y2="476.7" stroke="#e8705f" stroke-width="0.9" stroke-dasharray="1.5 1" opacity="0.45"/>
<path d="M421.9 476.7 C422.48 476.98 423.67 476.82 425.4 478.4 C427.13 479.98 429.7 482.15 432.3 486.2 C434.9 490.25 438.12 498.23 441 502.7 C443.88 507.17 446.72 510.27 449.6 513 C452.48 515.73 454.9 518.08 458.3 519.1 C461.7 520.12 465.63 519.1 470 519.1 C474.37 519.1 482.08 519.1 484.5 519.1" fill="none" stroke="#e8705f" stroke-width="1"/>
<line x1="125.6" y1="499.9" x2="125.6" y2="509.4" stroke="#444" stroke-width="1.3"/>
<line x1="125.2" y1="512.9" x2="138" y2="512.9" stroke="#444" stroke-width="1.3"/>
<text transform="translate(121.3 504.5) rotate(-90)" font-size="6.5" text-anchor="middle" fill="#1a1a1a" textLength="12" lengthAdjust="spacingAndGlyphs">20%</text>
<text x="132" y="522" font-size="6.8" text-anchor="middle" fill="#1a1a1a" textLength="16.5" lengthAdjust="spacing" stroke="#1a1a1a" stroke-width="0.1">1 min</text>
<line x1="27.9" y1="582.3" x2="34.6" y2="582.3" stroke="#b36e90" stroke-width="1.5"/>
<text x="38.5" y="584.9" font-size="7.3" text-anchor="start" fill="#1a1a1a" textLength="27.2" lengthAdjust="spacingAndGlyphs" stroke="#1a1a1a" stroke-width="0.1">WT FCCP</text>
<line x1="27.9" y1="592.1" x2="34.6" y2="592.1" stroke="#68abb2" stroke-width="1.5"/>
<text x="38.5" y="594.7" font-size="7.3" text-anchor="start" fill="#1a1a1a" textLength="34.2" lengthAdjust="spacingAndGlyphs" stroke="#1a1a1a" stroke-width="0.1">Nix-/- FCCP</text>
<line x1="27.9" y1="601.9" x2="34.6" y2="601.9" stroke="#5d4a7d" stroke-width="1.5"/>
<text x="38.5" y="604.5" font-size="7.3" text-anchor="start" fill="#1a1a1a" textLength="40" lengthAdjust="spacing" stroke="#1a1a1a" stroke-width="0.1">Nix-/- control</text>
<line x1="27.9" y1="611.7" x2="34.6" y2="611.7" stroke="#bf5b3c" stroke-width="1.5"/>
<text x="38.5" y="614.3" font-size="7.3" text-anchor="start" fill="#1a1a1a" textLength="33.4" lengthAdjust="spacingAndGlyphs" stroke="#1a1a1a" stroke-width="0.1">WT control</text>
<line x1="115.8" y1="551.9" x2="115.8" y2="641.7" stroke="#1a1a1a" stroke-width="1.1"/>
<line x1="112.5" y1="641.2" x2="496.5" y2="641.2" stroke="#1a1a1a" stroke-width="1.1"/>
<line x1="112.8" y1="641.2" x2="115.8" y2="641.2" stroke="#1a1a1a" stroke-width="1"/>
<text x="109.2" y="643.65" font-size="7.1" text-anchor="end" fill="#1a1a1a" stroke="#1a1a1a" stroke-width="0.1">0</text>
<line x1="112.8" y1="624.4" x2="115.8" y2="624.4" stroke="#1a1a1a" stroke-width="1"/>
<text x="109.2" y="626.85" font-size="7.1" text-anchor="end" fill="#1a1a1a" stroke="#1a1a1a" stroke-width="0.1">25</text>
<line x1="112.8" y1="607.1" x2="115.8" y2="607.1" stroke="#1a1a1a" stroke-width="1"/>
<text x="109.2" y="609.55" font-size="7.1" text-anchor="end" fill="#1a1a1a" stroke="#1a1a1a" stroke-width="0.1">50</text>
<line x1="112.8" y1="589.8" x2="115.8" y2="589.8" stroke="#1a1a1a" stroke-width="1"/>
<text x="109.2" y="592.25" font-size="7.1" text-anchor="end" fill="#1a1a1a" stroke="#1a1a1a" stroke-width="0.1">75</text>
<line x1="112.8" y1="572.5" x2="115.8" y2="572.5" stroke="#1a1a1a" stroke-width="1"/>
<text x="109.2" y="574.95" font-size="7.1" text-anchor="end" fill="#1a1a1a" stroke="#1a1a1a" stroke-width="0.1">100</text>
<line x1="112.8" y1="555.2" x2="115.8" y2="555.2" stroke="#1a1a1a" stroke-width="1"/>
<text x="109.2" y="557.65" font-size="7.1" text-anchor="end" fill="#1a1a1a" stroke="#1a1a1a" stroke-width="0.1">125</text>
<text transform="translate(90.7 598.3) rotate(-90)" font-size="9.2" text-anchor="middle" fill="#1a1a1a" textLength="108" lengthAdjust="spacing" stroke="#1a1a1a" stroke-width="0.22">Aggregation amplitude (%)</text>
<rect x="123.1" y="575.4" width="6.8" height="65.8" fill="#bf5b3c"/>
<line x1="126.5" y1="573.5" x2="126.5" y2="577" stroke="#1a1a1a" stroke-width="1.15"/>
<line x1="125.2" y1="573.5" x2="127.8" y2="573.5" stroke="#1a1a1a" stroke-width="1"/>
<line x1="125.2" y1="577" x2="127.8" y2="577" stroke="#1a1a1a" stroke-width="1"/>
<rect x="143.3" y="626.3" width="6.8" height="14.9" fill="#b36e90"/>
<line x1="146.7" y1="622.5" x2="146.7" y2="629.2" stroke="#1a1a1a" stroke-width="1.15"/>
<line x1="145.4" y1="622.5" x2="148" y2="622.5" stroke="#1a1a1a" stroke-width="1"/>
<line x1="145.4" y1="629.2" x2="148" y2="629.2" stroke="#1a1a1a" stroke-width="1"/>
<rect x="163.6" y="598.5" width="6.8" height="42.7" fill="#5d4a7d"/>
<line x1="167" y1="595.2" x2="167" y2="601.3" stroke="#1a1a1a" stroke-width="1.15"/>
<line x1="165.7" y1="595.2" x2="168.3" y2="595.2" stroke="#1a1a1a" stroke-width="1"/>
<line x1="165.7" y1="601.3" x2="168.3" y2="601.3" stroke="#1a1a1a" stroke-width="1"/>
<rect x="184.2" y="618.3" width="6.8" height="22.9" fill="#68abb2"/>
<line x1="187.6" y1="614.8" x2="187.6" y2="621.6" stroke="#1a1a1a" stroke-width="1.15"/>
<line x1="186.3" y1="614.8" x2="188.9" y2="614.8" stroke="#1a1a1a" stroke-width="1"/>
<line x1="186.3" y1="621.6" x2="188.9" y2="621.6" stroke="#1a1a1a" stroke-width="1"/>
<text transform="translate(133.4 649.5) rotate(-45)" font-size="7.5" text-anchor="end" fill="#1a1a1a" textLength="22.8" lengthAdjust="spacingAndGlyphs" stroke="#1a1a1a" stroke-width="0.1">Control</text>
<text transform="translate(152.1 651.9) rotate(-45)" font-size="7.5" text-anchor="end" fill="#1a1a1a" textLength="18.4" lengthAdjust="spacingAndGlyphs" stroke="#1a1a1a" stroke-width="0.1">FCCP</text>
<text transform="translate(173.9 649.5) rotate(-45)" font-size="7.5" text-anchor="end" fill="#1a1a1a" textLength="22.8" lengthAdjust="spacingAndGlyphs" stroke="#1a1a1a" stroke-width="0.1">Control</text>
<text transform="translate(193 651.9) rotate(-45)" font-size="7.5" text-anchor="end" fill="#1a1a1a" textLength="18.4" lengthAdjust="spacingAndGlyphs" stroke="#1a1a1a" stroke-width="0.1">FCCP</text>
<path d="M126.5 564.2V561.2H167V564.2" fill="none" stroke="#1a1a1a" stroke-width="1.15"/>
<text x="146.75" y="563.1" font-size="6.6" text-anchor="middle" fill="#1a1a1a" letter-spacing="-0.2">*</text>
<path d="M126.5 569.8V566.8H146.7V569.8" fill="none" stroke="#1a1a1a" stroke-width="1.15"/>
<text x="136.6" y="568.7" font-size="6.6" text-anchor="middle" fill="#1a1a1a" letter-spacing="-0.2">**</text>
<path d="M167 569.8V566.8H187.6V569.8" fill="none" stroke="#1a1a1a" stroke-width="1.15"/>
<text x="177.3" y="568.7" font-size="6.6" text-anchor="middle" fill="#1a1a1a" letter-spacing="-0.2">*</text>
<line x1="114" y1="670.5" x2="153.2" y2="670.5" stroke="#333" stroke-width="1"/>
<line x1="155.3" y1="670.5" x2="194.4" y2="670.5" stroke="#333" stroke-width="1"/>
<text x="133.6" y="680.1" font-size="7.4" text-anchor="middle" fill="#1a1a1a" stroke="#1a1a1a" stroke-width="0.1">WT</text>
<text x="174.85" y="680.1" font-size="7.4" text-anchor="middle" fill="#1a1a1a" stroke="#1a1a1a" stroke-width="0.1">Nix-/-</text>
<rect x="222.4" y="573.1" width="6.8" height="68.1" fill="#bf5b3c"/>
<rect x="242.6" y="620.8" width="6.8" height="20.4" fill="#b36e90"/>
<line x1="246" y1="614.6" x2="246" y2="627.5" stroke="#1a1a1a" stroke-width="1.15"/>
<line x1="244.7" y1="614.6" x2="247.3" y2="614.6" stroke="#1a1a1a" stroke-width="1"/>
<line x1="244.7" y1="627.5" x2="247.3" y2="627.5" stroke="#1a1a1a" stroke-width="1"/>
<rect x="263.1" y="602.1" width="6.8" height="39.1" fill="#5d4a7d"/>
<line x1="266.5" y1="597.1" x2="266.5" y2="607.3" stroke="#1a1a1a" stroke-width="1.15"/>
<line x1="265.2" y1="597.1" x2="267.8" y2="597.1" stroke="#1a1a1a" stroke-width="1"/>
<line x1="265.2" y1="607.3" x2="267.8" y2="607.3" stroke="#1a1a1a" stroke-width="1"/>
<rect x="283.8" y="611.2" width="6.8" height="30" fill="#68abb2"/>
<line x1="287.2" y1="605.8" x2="287.2" y2="615" stroke="#1a1a1a" stroke-width="1.15"/>
<line x1="285.9" y1="605.8" x2="288.5" y2="605.8" stroke="#1a1a1a" stroke-width="1"/>
<line x1="285.9" y1="615" x2="288.5" y2="615" stroke="#1a1a1a" stroke-width="1"/>
<text transform="translate(232.7 649.5) rotate(-45)" font-size="7.5" text-anchor="end" fill="#1a1a1a" textLength="22.8" lengthAdjust="spacingAndGlyphs" stroke="#1a1a1a" stroke-width="0.1">Control</text>
<text transform="translate(251.4 651.9) rotate(-45)" font-size="7.5" text-anchor="end" fill="#1a1a1a" textLength="18.4" lengthAdjust="spacingAndGlyphs" stroke="#1a1a1a" stroke-width="0.1">FCCP</text>
<text transform="translate(273.4 649.5) rotate(-45)" font-size="7.5" text-anchor="end" fill="#1a1a1a" textLength="22.8" lengthAdjust="spacingAndGlyphs" stroke="#1a1a1a" stroke-width="0.1">Control</text>
<text transform="translate(292.6 651.9) rotate(-45)" font-size="7.5" text-anchor="end" fill="#1a1a1a" textLength="18.4" lengthAdjust="spacingAndGlyphs" stroke="#1a1a1a" stroke-width="0.1">FCCP</text>
<path d="M225.8 564.2V561.2H266.5V564.2" fill="none" stroke="#1a1a1a" stroke-width="1.15"/>
<text x="246.15" y="563.1" font-size="6.6" text-anchor="middle" fill="#1a1a1a" letter-spacing="-0.2">*</text>
<path d="M225.8 569.8V566.8H246V569.8" fill="none" stroke="#1a1a1a" stroke-width="1.15"/>
<text x="235.9" y="568.7" font-size="6.6" text-anchor="middle" fill="#1a1a1a" letter-spacing="-0.2">**</text>
<path d="M266.5 569.8V566.8H287.2V569.8" fill="none" stroke="#1a1a1a" stroke-width="1.15"/>
<text x="276.85" y="568.7" font-size="6.6" text-anchor="middle" fill="#1a1a1a" letter-spacing="-0.2">*</text>
<line x1="214.2" y1="670.5" x2="252.7" y2="670.5" stroke="#333" stroke-width="1"/>
<line x1="255" y1="670.5" x2="293.5" y2="670.5" stroke="#333" stroke-width="1"/>
<text x="233.45" y="680.1" font-size="7.4" text-anchor="middle" fill="#1a1a1a" stroke="#1a1a1a" stroke-width="0.1">WT</text>
<text x="274.25" y="680.1" font-size="7.4" text-anchor="middle" fill="#1a1a1a" stroke="#1a1a1a" stroke-width="0.1">Nix-/-</text>
<rect x="321.9" y="576.2" width="6.8" height="65" fill="#bf5b3c"/>
<line x1="325.3" y1="573.7" x2="325.3" y2="578" stroke="#1a1a1a" stroke-width="1.15"/>
<line x1="324" y1="573.7" x2="326.6" y2="573.7" stroke="#1a1a1a" stroke-width="1"/>
<line x1="324" y1="578" x2="326.6" y2="578" stroke="#1a1a1a" stroke-width="1"/>
<rect x="342.1" y="623" width="6.8" height="18.2" fill="#b36e90"/>
<line x1="345.5" y1="617.3" x2="345.5" y2="628.5" stroke="#1a1a1a" stroke-width="1.15"/>
<line x1="344.2" y1="617.3" x2="346.8" y2="617.3" stroke="#1a1a1a" stroke-width="1"/>
<line x1="344.2" y1="628.5" x2="346.8" y2="628.5" stroke="#1a1a1a" stroke-width="1"/>
<rect x="362.3" y="603" width="6.8" height="38.2" fill="#5d4a7d"/>
<line x1="365.7" y1="598.3" x2="365.7" y2="607.7" stroke="#1a1a1a" stroke-width="1.15"/>
<line x1="364.4" y1="598.3" x2="367" y2="598.3" stroke="#1a1a1a" stroke-width="1"/>
<line x1="364.4" y1="607.7" x2="367" y2="607.7" stroke="#1a1a1a" stroke-width="1"/>
<rect x="383.2" y="611.2" width="6.8" height="30" fill="#68abb2"/>
<line x1="386.6" y1="607.3" x2="386.6" y2="614.6" stroke="#1a1a1a" stroke-width="1.15"/>
<line x1="385.3" y1="607.3" x2="387.9" y2="607.3" stroke="#1a1a1a" stroke-width="1"/>
<line x1="385.3" y1="614.6" x2="387.9" y2="614.6" stroke="#1a1a1a" stroke-width="1"/>
<text transform="translate(332.2 649.5) rotate(-45)" font-size="7.5" text-anchor="end" fill="#1a1a1a" textLength="22.8" lengthAdjust="spacingAndGlyphs" stroke="#1a1a1a" stroke-width="0.1">Control</text>
<text transform="translate(350.9 651.9) rotate(-45)" font-size="7.5" text-anchor="end" fill="#1a1a1a" textLength="18.4" lengthAdjust="spacingAndGlyphs" stroke="#1a1a1a" stroke-width="0.1">FCCP</text>
<text transform="translate(372.6 649.5) rotate(-45)" font-size="7.5" text-anchor="end" fill="#1a1a1a" textLength="22.8" lengthAdjust="spacingAndGlyphs" stroke="#1a1a1a" stroke-width="0.1">Control</text>
<text transform="translate(392 651.9) rotate(-45)" font-size="7.5" text-anchor="end" fill="#1a1a1a" textLength="18.4" lengthAdjust="spacingAndGlyphs" stroke="#1a1a1a" stroke-width="0.1">FCCP</text>
<path d="M325.3 564.2V561.2H365.7V564.2" fill="none" stroke="#1a1a1a" stroke-width="1.15"/>
<text x="345.5" y="563.1" font-size="6.6" text-anchor="middle" fill="#1a1a1a" letter-spacing="-0.2">*</text>
<path d="M325.3 569.8V566.8H345.5V569.8" fill="none" stroke="#1a1a1a" stroke-width="1.15"/>
<text x="335.4" y="568.7" font-size="6.6" text-anchor="middle" fill="#1a1a1a" letter-spacing="-0.2">**</text>
<path d="M365.7 569.8V566.8H386.6V569.8" fill="none" stroke="#1a1a1a" stroke-width="1.15"/>
<text x="376.15" y="568.7" font-size="6.6" text-anchor="middle" fill="#1a1a1a" letter-spacing="-0.2">*</text>
<line x1="313.5" y1="670.5" x2="352" y2="670.5" stroke="#333" stroke-width="1"/>
<line x1="354.6" y1="670.5" x2="393" y2="670.5" stroke="#333" stroke-width="1"/>
<text x="332.75" y="680.1" font-size="7.4" text-anchor="middle" fill="#1a1a1a" stroke="#1a1a1a" stroke-width="0.1">WT</text>
<text x="373.8" y="680.1" font-size="7.4" text-anchor="middle" fill="#1a1a1a" stroke="#1a1a1a" stroke-width="0.1">Nix-/-</text>
<rect x="421.7" y="574.6" width="6.8" height="66.6" fill="#bf5b3c"/>
<line x1="425.1" y1="573" x2="425.1" y2="576" stroke="#1a1a1a" stroke-width="1.15"/>
<line x1="423.8" y1="573" x2="426.4" y2="573" stroke="#1a1a1a" stroke-width="1"/>
<line x1="423.8" y1="576" x2="426.4" y2="576" stroke="#1a1a1a" stroke-width="1"/>
<rect x="442.1" y="629.4" width="6.8" height="11.8" fill="#b36e90"/>
<line x1="445.5" y1="626.2" x2="445.5" y2="633.3" stroke="#1a1a1a" stroke-width="1.15"/>
<line x1="444.2" y1="626.2" x2="446.8" y2="626.2" stroke="#1a1a1a" stroke-width="1"/>
<line x1="444.2" y1="633.3" x2="446.8" y2="633.3" stroke="#1a1a1a" stroke-width="1"/>
<rect x="462.3" y="607.7" width="6.8" height="33.5" fill="#5d4a7d"/>
<line x1="465.7" y1="605" x2="465.7" y2="610.8" stroke="#1a1a1a" stroke-width="1.15"/>
<line x1="464.4" y1="605" x2="467" y2="605" stroke="#1a1a1a" stroke-width="1"/>
<line x1="464.4" y1="610.8" x2="467" y2="610.8" stroke="#1a1a1a" stroke-width="1"/>
<rect x="483.1" y="618.7" width="6.8" height="22.5" fill="#68abb2"/>
<line x1="486.5" y1="617.2" x2="486.5" y2="620.9" stroke="#1a1a1a" stroke-width="1.15"/>
<line x1="485.2" y1="617.2" x2="487.8" y2="617.2" stroke="#1a1a1a" stroke-width="1"/>
<line x1="485.2" y1="620.9" x2="487.8" y2="620.9" stroke="#1a1a1a" stroke-width="1"/>
<text transform="translate(432 649.5) rotate(-45)" font-size="7.5" text-anchor="end" fill="#1a1a1a" textLength="22.8" lengthAdjust="spacingAndGlyphs" stroke="#1a1a1a" stroke-width="0.1">Control</text>
<text transform="translate(450.9 651.9) rotate(-45)" font-size="7.5" text-anchor="end" fill="#1a1a1a" textLength="18.4" lengthAdjust="spacingAndGlyphs" stroke="#1a1a1a" stroke-width="0.1">FCCP</text>
<text transform="translate(472.6 649.5) rotate(-45)" font-size="7.5" text-anchor="end" fill="#1a1a1a" textLength="22.8" lengthAdjust="spacingAndGlyphs" stroke="#1a1a1a" stroke-width="0.1">Control</text>
<text transform="translate(491.9 651.9) rotate(-45)" font-size="7.5" text-anchor="end" fill="#1a1a1a" textLength="18.4" lengthAdjust="spacingAndGlyphs" stroke="#1a1a1a" stroke-width="0.1">FCCP</text>
<path d="M425.1 564.2V561.2H465.7V564.2" fill="none" stroke="#1a1a1a" stroke-width="1.15"/>
<text x="445.4" y="563.1" font-size="6.6" text-anchor="middle" fill="#1a1a1a" letter-spacing="-0.2">*</text>
<path d="M425.1 569.8V566.8H445.5V569.8" fill="none" stroke="#1a1a1a" stroke-width="1.15"/>
<text x="435.3" y="568.7" font-size="6.6" text-anchor="middle" fill="#1a1a1a" letter-spacing="-0.2">**</text>
<path d="M465.7 569.8V566.8H486.5V569.8" fill="none" stroke="#1a1a1a" stroke-width="1.15"/>
<text x="476.1" y="568.7" font-size="6.6" text-anchor="middle" fill="#1a1a1a" letter-spacing="-0.2">*</text>
<line x1="413" y1="670.5" x2="451.5" y2="670.5" stroke="#333" stroke-width="1"/>
<line x1="454.3" y1="670.5" x2="492.8" y2="670.5" stroke="#333" stroke-width="1"/>
<text x="432.25" y="680.1" font-size="7.4" text-anchor="middle" fill="#1a1a1a" stroke="#1a1a1a" stroke-width="0.1">WT</text>
<text x="473.55" y="680.1" font-size="7.4" text-anchor="middle" fill="#1a1a1a" stroke="#1a1a1a" stroke-width="0.1">Nix-/-</text>
<rect x="1" y="1" width="518" height="688" fill="none" stroke="#6c6b66" stroke-width="2"/>
</svg>
</body></html>
